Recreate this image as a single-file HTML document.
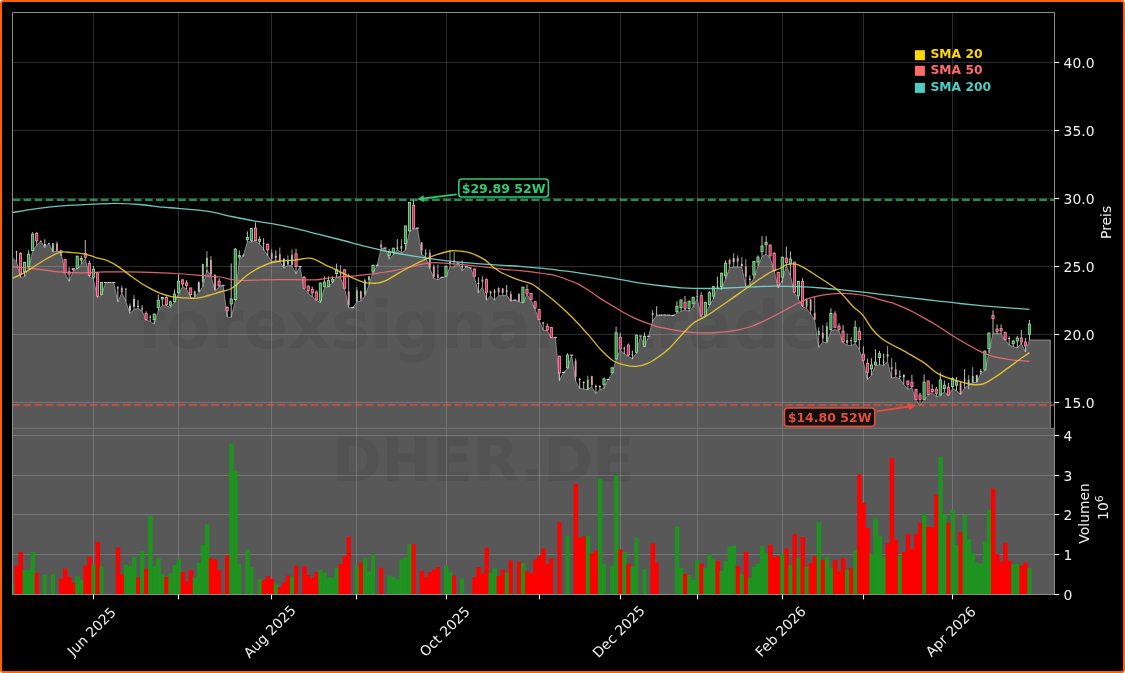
<!DOCTYPE html>
<html><head><meta charset="utf-8"><style>
html,body{margin:0;padding:0;background:#fff;width:1125px;height:673px;overflow:hidden}
#frame{position:absolute;left:0;top:0;width:1121px;height:669px;border:2px solid #ff6000;border-radius:3.5px;background:#000}
svg{position:absolute;left:0;top:0;will-change:transform}
</style></head><body>
<div id="frame"></div>
<svg width="1125" height="673" viewBox="0 0 1125 673" style="font-family:'DejaVu Sans','Liberation Sans',sans-serif">
<clipPath id="cp"><rect x="12.5" y="12.5" width="1041.8" height="415.7"/></clipPath>
<clipPath id="cv"><rect x="12.5" y="428.2" width="1041.8" height="166.3"/></clipPath>
<g clip-path="url(#cp)">
<polygon fill="#585858" points="12.5,428.2 12.5,257.9 12.4,257.9 16.5,261.8 20.5,277.4 24.6,276.5 28.6,267.9 32.7,251.2 36.7,245.0 40.8,241.0 44.8,247.6 48.9,243.4 52.9,252.0 57.0,251.2 61.0,252.0 65.1,273.1 69.1,281.3 73.2,271.2 77.2,268.7 81.3,264.0 85.3,258.4 89.4,276.7 93.4,279.2 97.5,297.4 101.5,295.1 105.6,282.5 109.6,282.5 113.7,282.5 117.8,301.8 121.8,292.9 125.9,301.3 129.9,313.5 134.0,309.6 138.0,308.5 142.1,310.7 146.1,320.2 150.2,321.3 154.2,324.1 158.3,310.7 162.3,305.2 166.4,305.7 170.4,307.4 174.5,302.4 178.5,293.5 182.6,286.8 186.6,289.0 190.7,297.9 194.7,297.4 198.8,292.3 202.8,286.8 206.9,270.0 210.9,275.6 215.0,290.7 219.1,286.8 223.1,285.4 227.2,316.9 231.2,317.4 235.3,300.7 239.3,259.0 243.4,255.4 247.4,241.8 251.5,242.0 255.5,240.9 259.6,244.2 263.6,249.3 267.7,255.4 271.7,261.6 275.8,260.4 279.8,261.6 283.9,268.2 287.9,264.9 292.0,266.0 296.0,273.8 300.1,266.6 304.1,288.9 308.2,293.3 312.2,296.7 316.3,300.4 320.4,302.6 324.4,287.0 328.5,287.0 332.5,282.6 336.6,277.0 340.6,278.1 344.7,288.7 348.7,307.7 352.8,307.7 356.8,302.0 360.9,301.0 364.9,296.0 369.0,284.8 373.0,272.5 377.1,265.3 381.1,248.6 385.2,248.0 389.2,259.2 393.3,254.8 397.3,249.8 401.4,252.6 405.4,250.4 409.5,231.4 413.5,229.2 417.6,228.1 421.7,254.5 425.7,257.0 429.8,268.2 433.8,278.4 437.9,279.6 441.9,277.3 446.0,276.8 450.0,266.7 454.1,267.3 458.1,263.0 462.2,270.6 466.2,266.7 470.3,267.9 474.3,276.8 478.4,292.9 482.4,286.8 486.5,300.2 490.5,295.7 494.6,300.2 498.6,295.7 502.7,295.7 506.7,295.2 510.8,301.2 514.8,300.1 518.9,301.7 523.0,302.8 527.0,294.5 531.1,300.1 535.1,309.5 539.2,320.1 543.2,330.2 547.3,330.7 551.3,338.0 555.4,337.4 559.4,380.7 563.5,372.5 567.5,368.5 571.6,355.1 575.6,380.7 579.7,388.5 583.7,389.1 587.8,389.6 591.8,386.9 595.9,393.5 599.9,389.6 604.0,388.5 608.0,379.6 612.1,373.5 616.1,359.5 620.2,349.5 624.3,354.0 628.3,356.2 632.4,358.8 636.4,353.0 640.5,336.0 644.5,346.9 648.6,336.3 652.6,321.0 656.7,315.6 660.7,315.1 664.8,315.1 668.8,315.2 672.9,315.5 676.9,313.4 681.0,311.2 685.0,310.1 689.1,311.2 693.1,307.3 697.2,298.4 701.2,317.3 705.3,315.6 709.3,305.6 713.4,298.9 717.4,287.7 721.5,289.4 725.6,278.8 729.6,267.7 733.7,267.1 737.7,267.1 741.8,267.1 745.8,286.6 749.9,284.4 753.9,278.3 758.0,266.0 762.0,256.7 766.1,254.1 770.1,257.6 774.2,271.0 778.2,287.9 782.3,280.0 786.3,265.6 790.4,275.5 794.4,292.6 798.5,299.3 802.5,306.5 806.6,308.4 810.6,314.0 814.7,320.1 818.7,347.4 822.8,341.8 826.9,342.9 830.9,331.0 835.0,329.5 839.0,331.0 843.1,342.4 847.1,345.2 851.2,345.7 855.2,343.5 859.3,349.6 863.3,361.5 867.4,379.4 871.4,375.5 875.5,365.4 879.5,364.9 883.6,365.4 887.6,361.5 891.7,378.2 895.7,377.1 899.8,378.8 903.8,384.4 907.9,389.4 911.9,387.7 916.0,400.0 920.0,405.6 924.1,400.0 928.2,395.0 932.2,392.7 936.3,396.6 940.3,395.5 944.4,391.9 948.4,395.5 952.5,388.6 956.5,390.6 960.6,394.6 964.6,387.9 968.7,385.2 972.7,382.6 976.8,382.3 980.8,373.2 984.9,370.5 988.9,352.5 993.0,333.0 997.0,333.5 1001.1,333.8 1005.1,340.0 1009.2,345.1 1013.2,346.5 1017.3,348.0 1021.3,343.0 1025.4,352.0 1029.5,340.0 1050.4,340.0 1050.4,428.2"/>
<polyline fill="none" stroke="#bdbdbd" stroke-opacity="0.6" stroke-width="1" points="12.4,257.9 16.5,261.8 20.5,277.4 24.6,276.5 28.6,267.9 32.7,251.2 36.7,245.0 40.8,241.0 44.8,247.6 48.9,243.4 52.9,252.0 57.0,251.2 61.0,252.0 65.1,273.1 69.1,281.3 73.2,271.2 77.2,268.7 81.3,264.0 85.3,258.4 89.4,276.7 93.4,279.2 97.5,297.4 101.5,295.1 105.6,282.5 109.6,282.5 113.7,282.5 117.8,301.8 121.8,292.9 125.9,301.3 129.9,313.5 134.0,309.6 138.0,308.5 142.1,310.7 146.1,320.2 150.2,321.3 154.2,324.1 158.3,310.7 162.3,305.2 166.4,305.7 170.4,307.4 174.5,302.4 178.5,293.5 182.6,286.8 186.6,289.0 190.7,297.9 194.7,297.4 198.8,292.3 202.8,286.8 206.9,270.0 210.9,275.6 215.0,290.7 219.1,286.8 223.1,285.4 227.2,316.9 231.2,317.4 235.3,300.7 239.3,259.0 243.4,255.4 247.4,241.8 251.5,242.0 255.5,240.9 259.6,244.2 263.6,249.3 267.7,255.4 271.7,261.6 275.8,260.4 279.8,261.6 283.9,268.2 287.9,264.9 292.0,266.0 296.0,273.8 300.1,266.6 304.1,288.9 308.2,293.3 312.2,296.7 316.3,300.4 320.4,302.6 324.4,287.0 328.5,287.0 332.5,282.6 336.6,277.0 340.6,278.1 344.7,288.7 348.7,307.7 352.8,307.7 356.8,302.0 360.9,301.0 364.9,296.0 369.0,284.8 373.0,272.5 377.1,265.3 381.1,248.6 385.2,248.0 389.2,259.2 393.3,254.8 397.3,249.8 401.4,252.6 405.4,250.4 409.5,231.4 413.5,229.2 417.6,228.1 421.7,254.5 425.7,257.0 429.8,268.2 433.8,278.4 437.9,279.6 441.9,277.3 446.0,276.8 450.0,266.7 454.1,267.3 458.1,263.0 462.2,270.6 466.2,266.7 470.3,267.9 474.3,276.8 478.4,292.9 482.4,286.8 486.5,300.2 490.5,295.7 494.6,300.2 498.6,295.7 502.7,295.7 506.7,295.2 510.8,301.2 514.8,300.1 518.9,301.7 523.0,302.8 527.0,294.5 531.1,300.1 535.1,309.5 539.2,320.1 543.2,330.2 547.3,330.7 551.3,338.0 555.4,337.4 559.4,380.7 563.5,372.5 567.5,368.5 571.6,355.1 575.6,380.7 579.7,388.5 583.7,389.1 587.8,389.6 591.8,386.9 595.9,393.5 599.9,389.6 604.0,388.5 608.0,379.6 612.1,373.5 616.1,359.5 620.2,349.5 624.3,354.0 628.3,356.2 632.4,358.8 636.4,353.0 640.5,336.0 644.5,346.9 648.6,336.3 652.6,321.0 656.7,315.6 660.7,315.1 664.8,315.1 668.8,315.2 672.9,315.5 676.9,313.4 681.0,311.2 685.0,310.1 689.1,311.2 693.1,307.3 697.2,298.4 701.2,317.3 705.3,315.6 709.3,305.6 713.4,298.9 717.4,287.7 721.5,289.4 725.6,278.8 729.6,267.7 733.7,267.1 737.7,267.1 741.8,267.1 745.8,286.6 749.9,284.4 753.9,278.3 758.0,266.0 762.0,256.7 766.1,254.1 770.1,257.6 774.2,271.0 778.2,287.9 782.3,280.0 786.3,265.6 790.4,275.5 794.4,292.6 798.5,299.3 802.5,306.5 806.6,308.4 810.6,314.0 814.7,320.1 818.7,347.4 822.8,341.8 826.9,342.9 830.9,331.0 835.0,329.5 839.0,331.0 843.1,342.4 847.1,345.2 851.2,345.7 855.2,343.5 859.3,349.6 863.3,361.5 867.4,379.4 871.4,375.5 875.5,365.4 879.5,364.9 883.6,365.4 887.6,361.5 891.7,378.2 895.7,377.1 899.8,378.8 903.8,384.4 907.9,389.4 911.9,387.7 916.0,400.0 920.0,405.6 924.1,400.0 928.2,395.0 932.2,392.7 936.3,396.6 940.3,395.5 944.4,391.9 948.4,395.5 952.5,388.6 956.5,390.6 960.6,394.6 964.6,387.9 968.7,385.2 972.7,382.6 976.8,382.3 980.8,373.2 984.9,370.5 988.9,352.5 993.0,333.0 997.0,333.5 1001.1,333.8 1005.1,340.0 1009.2,345.1 1013.2,346.5 1017.3,348.0 1021.3,343.0 1025.4,352.0 1029.5,340.0 1050.4,340.0 1050.4,428.2"/>
<text x="137" y="348.2" font-size="66px" font-weight="bold" fill="#000" fill-opacity="0.065">forexsignale.trade</text>
<g stroke="#ffffff" stroke-opacity="0.17" stroke-width="1" fill="none">
<line x1="93.5" y1="12.5" x2="93.5" y2="428.2"/>
<line x1="178.5" y1="12.5" x2="178.5" y2="428.2"/>
<line x1="271.5" y1="12.5" x2="271.5" y2="428.2"/>
<line x1="356.5" y1="12.5" x2="356.5" y2="428.2"/>
<line x1="446.5" y1="12.5" x2="446.5" y2="428.2"/>
<line x1="539.5" y1="12.5" x2="539.5" y2="428.2"/>
<line x1="620.5" y1="12.5" x2="620.5" y2="428.2"/>
<line x1="697.5" y1="12.5" x2="697.5" y2="428.2"/>
<line x1="782.5" y1="12.5" x2="782.5" y2="428.2"/>
<line x1="863.5" y1="12.5" x2="863.5" y2="428.2"/>
<line x1="952.5" y1="12.5" x2="952.5" y2="428.2"/>
<line x1="12.5" y1="62.5" x2="1054.3" y2="62.5"/>
<line x1="12.5" y1="130.5" x2="1054.3" y2="130.5"/>
<line x1="12.5" y1="198.5" x2="1054.3" y2="198.5"/>
<line x1="12.5" y1="266.5" x2="1054.3" y2="266.5"/>
<line x1="12.5" y1="334.5" x2="1054.3" y2="334.5"/>
<line x1="12.5" y1="402.5" x2="1054.3" y2="402.5"/>
</g>
<line x1="12.4" y1="252.3" x2="12.4" y2="257.9" stroke="#d4d4d4" stroke-width="0.9"/>
<rect x="11.50" y="252.9" width="1.8" height="0.7" fill="#d8d8d8"/>
<line x1="16.5" y1="250.9" x2="16.5" y2="261.8" stroke="#d4d4d4" stroke-width="0.9"/>
<rect x="15.55" y="251.5" width="1.8" height="0.7" fill="#d8d8d8"/>
<line x1="20.5" y1="252.3" x2="20.5" y2="277.4" stroke="#cfcfcf" stroke-width="0.9"/>
<rect x="19.40" y="253.4" width="2.2" height="20.6" fill="#bf2f58" stroke="#ff94b2" stroke-width="0.8"/>
<line x1="24.6" y1="261.8" x2="24.6" y2="276.5" stroke="#cfcfcf" stroke-width="0.9"/>
<rect x="23.46" y="262.3" width="2.2" height="9.5" fill="#2e8c47" stroke="#a0e2a0" stroke-width="0.8"/>
<line x1="28.6" y1="250.4" x2="28.6" y2="267.9" stroke="#cfcfcf" stroke-width="0.9"/>
<rect x="27.51" y="254.2" width="2.2" height="12.6" fill="#2e8c47" stroke="#a0e2a0" stroke-width="0.8"/>
<line x1="32.7" y1="232.2" x2="32.7" y2="251.2" stroke="#cfcfcf" stroke-width="0.9"/>
<rect x="31.56" y="234.1" width="2.2" height="16.5" fill="#2e8c47" stroke="#a0e2a0" stroke-width="0.8"/>
<line x1="36.7" y1="232.2" x2="36.7" y2="245.0" stroke="#cfcfcf" stroke-width="0.9"/>
<rect x="35.61" y="233.3" width="2.2" height="7.5" fill="#bf2f58" stroke="#ff94b2" stroke-width="0.8"/>
<line x1="40.8" y1="240.6" x2="40.8" y2="241.2" stroke="#d4d4d4" stroke-width="0.9"/>
<rect x="39.86" y="240.8" width="1.8" height="0.7" fill="#d8d8d8"/>
<line x1="44.8" y1="239.3" x2="44.8" y2="247.6" stroke="#d4d4d4" stroke-width="0.9"/>
<rect x="43.92" y="244.0" width="1.8" height="1.8" fill="#d8d8d8"/>
<line x1="48.9" y1="243.0" x2="48.9" y2="243.6" stroke="#d4d4d4" stroke-width="0.9"/>
<rect x="47.97" y="243.2" width="1.8" height="0.7" fill="#d8d8d8"/>
<line x1="52.9" y1="243.0" x2="52.9" y2="252.0" stroke="#d8d8d8" stroke-opacity="0.8" stroke-width="0.9"/>
<rect x="51.97" y="243.2" width="1.9" height="8.6" fill="#9fd09f" fill-opacity="0.9"/>
<line x1="57.0" y1="241.4" x2="57.0" y2="251.2" stroke="#d8d8d8" stroke-opacity="0.8" stroke-width="0.9"/>
<rect x="56.02" y="243.5" width="1.9" height="7.4" fill="#e3a3b3" fill-opacity="0.9"/>
<line x1="61.0" y1="250.0" x2="61.0" y2="256.0" stroke="#cfcfcf" stroke-width="0.9"/>
<rect x="59.92" y="250.9" width="2.2" height="1.1" fill="#bf2f58" stroke="#ff94b2" stroke-width="0.8"/>
<line x1="65.1" y1="259.0" x2="65.1" y2="273.1" stroke="#cfcfcf" stroke-width="0.9"/>
<rect x="63.98" y="259.5" width="2.2" height="13.4" fill="#bf2f58" stroke="#ff94b2" stroke-width="0.8"/>
<line x1="69.1" y1="267.3" x2="69.1" y2="281.3" stroke="#cfcfcf" stroke-width="0.9"/>
<rect x="68.03" y="271.8" width="2.2" height="2.2" fill="#bf2f58" stroke="#ff94b2" stroke-width="0.8"/>
<line x1="73.2" y1="267.9" x2="73.2" y2="271.2" stroke="#cfcfcf" stroke-width="0.9"/>
<rect x="72.08" y="268.5" width="2.2" height="1.1" fill="#bf2f58" stroke="#ff94b2" stroke-width="0.8"/>
<line x1="77.2" y1="255.6" x2="77.2" y2="268.7" stroke="#cfcfcf" stroke-width="0.9"/>
<rect x="76.13" y="256.2" width="2.2" height="12.3" fill="#2e8c47" stroke="#a0e2a0" stroke-width="0.8"/>
<line x1="81.3" y1="255.6" x2="81.3" y2="264.0" stroke="#cfcfcf" stroke-width="0.9"/>
<rect x="80.18" y="258.4" width="2.2" height="1.7" fill="#2e8c47" stroke="#a0e2a0" stroke-width="0.8"/>
<line x1="85.3" y1="240.0" x2="85.3" y2="258.4" stroke="#cfcfcf" stroke-width="0.9"/>
<rect x="84.24" y="253.4" width="2.2" height="3.9" fill="#bf2f58" stroke="#ff94b2" stroke-width="0.8"/>
<line x1="89.4" y1="260.6" x2="89.4" y2="276.7" stroke="#cfcfcf" stroke-width="0.9"/>
<rect x="88.29" y="263.4" width="2.2" height="12.2" fill="#bf2f58" stroke="#ff94b2" stroke-width="0.8"/>
<line x1="93.4" y1="266.2" x2="93.4" y2="279.2" stroke="#cfcfcf" stroke-width="0.9"/>
<rect x="92.34" y="269.2" width="2.2" height="8.1" fill="#2e8c47" stroke="#a0e2a0" stroke-width="0.8"/>
<line x1="97.5" y1="272.3" x2="97.5" y2="297.4" stroke="#cfcfcf" stroke-width="0.9"/>
<rect x="96.39" y="272.8" width="2.2" height="23.4" fill="#bf2f58" stroke="#ff94b2" stroke-width="0.8"/>
<line x1="101.5" y1="282.1" x2="101.5" y2="295.1" stroke="#cfcfcf" stroke-width="0.9"/>
<rect x="100.44" y="282.3" width="2.2" height="12.3" fill="#2e8c47" stroke="#a0e2a0" stroke-width="0.8"/>
<line x1="104.0" y1="282.5" x2="107.2" y2="282.5" stroke="#d0d0d0" stroke-width="1"/>
<line x1="108.0" y1="282.5" x2="111.2" y2="282.5" stroke="#d0d0d0" stroke-width="1"/>
<line x1="112.1" y1="282.5" x2="115.3" y2="282.5" stroke="#d0d0d0" stroke-width="1"/>
<line x1="117.8" y1="286.2" x2="117.8" y2="301.8" stroke="#d4d4d4" stroke-width="0.9"/>
<rect x="116.85" y="287.3" width="1.8" height="1.1" fill="#d8d8d8"/>
<line x1="121.8" y1="285.4" x2="121.8" y2="292.9" stroke="#d8d8d8" stroke-opacity="0.8" stroke-width="0.9"/>
<rect x="120.85" y="287.9" width="1.9" height="4.4" fill="#e3a3b3" fill-opacity="0.9"/>
<line x1="125.9" y1="288.4" x2="125.9" y2="301.3" stroke="#d4d4d4" stroke-width="0.9"/>
<rect x="124.96" y="288.7" width="1.8" height="0.7" fill="#d8d8d8"/>
<line x1="129.9" y1="303.5" x2="129.9" y2="313.5" stroke="#d8d8d8" stroke-opacity="0.8" stroke-width="0.9"/>
<rect x="128.96" y="305.7" width="1.9" height="5.0" fill="#c8d8c8" fill-opacity="0.9"/>
<line x1="134.0" y1="295.1" x2="134.0" y2="309.6" stroke="#d8d8d8" stroke-opacity="0.8" stroke-width="0.9"/>
<rect x="133.01" y="299.0" width="1.9" height="7.8" fill="#c8d8c8" fill-opacity="0.9"/>
<line x1="138.0" y1="300.2" x2="138.0" y2="308.5" stroke="#d4d4d4" stroke-width="0.9"/>
<rect x="137.11" y="305.7" width="1.8" height="1.1" fill="#d8d8d8"/>
<line x1="142.1" y1="305.2" x2="142.1" y2="310.7" stroke="#d4d4d4" stroke-width="0.9"/>
<rect x="141.16" y="308.5" width="1.8" height="0.7" fill="#d8d8d8"/>
<line x1="146.1" y1="311.3" x2="146.1" y2="320.2" stroke="#cfcfcf" stroke-width="0.9"/>
<rect x="145.02" y="313.5" width="2.2" height="6.2" fill="#bf2f58" stroke="#ff94b2" stroke-width="0.8"/>
<line x1="150.2" y1="315.2" x2="150.2" y2="321.3" stroke="#d4d4d4" stroke-width="0.9"/>
<rect x="149.27" y="316.7" width="1.8" height="0.7" fill="#d8d8d8"/>
<line x1="154.2" y1="313.5" x2="154.2" y2="324.1" stroke="#cfcfcf" stroke-width="0.9"/>
<rect x="153.12" y="314.1" width="2.2" height="5.6" fill="#2e8c47" stroke="#a0e2a0" stroke-width="0.8"/>
<line x1="158.3" y1="294.6" x2="158.3" y2="310.7" stroke="#cfcfcf" stroke-width="0.9"/>
<rect x="157.17" y="300.2" width="2.2" height="7.2" fill="#2e8c47" stroke="#a0e2a0" stroke-width="0.8"/>
<line x1="162.3" y1="296.8" x2="162.3" y2="305.2" stroke="#cfcfcf" stroke-width="0.9"/>
<rect x="161.22" y="297.4" width="2.2" height="1.6" fill="#2e8c47" stroke="#a0e2a0" stroke-width="0.8"/>
<line x1="166.4" y1="296.2" x2="166.4" y2="305.7" stroke="#cfcfcf" stroke-width="0.9"/>
<rect x="165.28" y="297.4" width="2.2" height="7.2" fill="#bf2f58" stroke="#ff94b2" stroke-width="0.8"/>
<line x1="170.4" y1="300.7" x2="170.4" y2="307.4" stroke="#cfcfcf" stroke-width="0.9"/>
<rect x="169.33" y="301.8" width="2.2" height="3.4" fill="#2e8c47" stroke="#a0e2a0" stroke-width="0.8"/>
<line x1="174.5" y1="289.6" x2="174.5" y2="302.4" stroke="#cfcfcf" stroke-width="0.9"/>
<rect x="173.38" y="294.0" width="2.2" height="7.8" fill="#2e8c47" stroke="#a0e2a0" stroke-width="0.8"/>
<line x1="178.5" y1="274.5" x2="178.5" y2="293.5" stroke="#cfcfcf" stroke-width="0.9"/>
<rect x="177.43" y="281.2" width="2.2" height="11.7" fill="#2e8c47" stroke="#a0e2a0" stroke-width="0.8"/>
<line x1="182.6" y1="279.2" x2="182.6" y2="286.8" stroke="#cfcfcf" stroke-width="0.9"/>
<rect x="181.48" y="279.9" width="2.2" height="4.1" fill="#bf2f58" stroke="#ff94b2" stroke-width="0.8"/>
<line x1="186.6" y1="280.1" x2="186.6" y2="289.0" stroke="#cfcfcf" stroke-width="0.9"/>
<rect x="185.54" y="282.9" width="2.2" height="2.8" fill="#bf2f58" stroke="#ff94b2" stroke-width="0.8"/>
<line x1="190.7" y1="287.9" x2="190.7" y2="297.9" stroke="#cfcfcf" stroke-width="0.9"/>
<rect x="189.59" y="287.9" width="2.2" height="6.7" fill="#bf2f58" stroke="#ff94b2" stroke-width="0.8"/>
<line x1="194.7" y1="290.7" x2="194.7" y2="297.4" stroke="#d8d8d8" stroke-opacity="0.8" stroke-width="0.9"/>
<rect x="193.79" y="291.2" width="1.9" height="5.0" fill="#9fd09f" fill-opacity="0.9"/>
<line x1="198.8" y1="281.2" x2="198.8" y2="292.3" stroke="#d8d8d8" stroke-opacity="0.8" stroke-width="0.9"/>
<rect x="197.84" y="282.3" width="1.9" height="9.5" fill="#c8d8c8" fill-opacity="0.9"/>
<line x1="202.8" y1="263.9" x2="202.8" y2="286.8" stroke="#d8d8d8" stroke-opacity="0.8" stroke-width="0.9"/>
<rect x="201.89" y="263.9" width="1.9" height="18.4" fill="#9fd09f" fill-opacity="0.9"/>
<line x1="206.9" y1="251.1" x2="206.9" y2="272.3" stroke="#d8d8d8" stroke-opacity="0.8" stroke-width="0.9"/>
<rect x="205.95" y="257.8" width="1.9" height="8.9" fill="#9fd09f" fill-opacity="0.9"/>
<line x1="210.9" y1="256.1" x2="210.9" y2="275.6" stroke="#d8d8d8" stroke-opacity="0.8" stroke-width="0.9"/>
<rect x="210.00" y="260.0" width="1.9" height="14.5" fill="#e3a3b3" fill-opacity="0.9"/>
<line x1="215.0" y1="274.0" x2="215.0" y2="290.7" stroke="#d8d8d8" stroke-opacity="0.8" stroke-width="0.9"/>
<rect x="214.05" y="275.1" width="1.9" height="15.0" fill="#e3a3b3" fill-opacity="0.9"/>
<line x1="219.1" y1="278.4" x2="219.1" y2="286.8" stroke="#cfcfcf" stroke-width="0.9"/>
<rect x="217.95" y="281.2" width="2.2" height="4.5" fill="#bf2f58" stroke="#ff94b2" stroke-width="0.8"/>
<line x1="221.5" y1="285.4" x2="224.7" y2="285.4" stroke="#d0d0d0" stroke-width="1"/>
<line x1="227.2" y1="306.3" x2="227.2" y2="316.9" stroke="#cfcfcf" stroke-width="0.9"/>
<rect x="226.06" y="307.4" width="2.2" height="3.3" fill="#bf2f58" stroke="#ff94b2" stroke-width="0.8"/>
<line x1="231.2" y1="263.4" x2="231.2" y2="317.4" stroke="#cfcfcf" stroke-width="0.9"/>
<rect x="230.11" y="299.0" width="2.2" height="5.0" fill="#2e8c47" stroke="#a0e2a0" stroke-width="0.8"/>
<line x1="235.3" y1="248.0" x2="235.3" y2="300.7" stroke="#cfcfcf" stroke-width="0.9"/>
<rect x="234.16" y="249.2" width="2.2" height="50.4" fill="#2e8c47" stroke="#a0e2a0" stroke-width="0.8"/>
<line x1="239.3" y1="250.4" x2="239.3" y2="259.0" stroke="#cfcfcf" stroke-width="0.9"/>
<rect x="238.21" y="255.6" width="2.2" height="1.4" fill="#2e8c47" stroke="#a0e2a0" stroke-width="0.8"/>
<line x1="243.4" y1="254.5" x2="243.4" y2="256.5" stroke="#d4d4d4" stroke-width="0.9"/>
<rect x="242.46" y="255.2" width="1.8" height="0.7" fill="#d8d8d8"/>
<line x1="247.4" y1="231.4" x2="247.4" y2="241.8" stroke="#cfcfcf" stroke-width="0.9"/>
<rect x="246.32" y="237.4" width="2.2" height="2.3" fill="#2e8c47" stroke="#a0e2a0" stroke-width="0.8"/>
<line x1="251.5" y1="228.1" x2="251.5" y2="242.0" stroke="#cfcfcf" stroke-width="0.9"/>
<rect x="250.37" y="228.4" width="2.2" height="12.2" fill="#2e8c47" stroke="#a0e2a0" stroke-width="0.8"/>
<line x1="255.5" y1="222.5" x2="255.5" y2="240.9" stroke="#cfcfcf" stroke-width="0.9"/>
<rect x="254.42" y="228.1" width="2.2" height="12.5" fill="#bf2f58" stroke="#ff94b2" stroke-width="0.8"/>
<line x1="259.6" y1="236.4" x2="259.6" y2="244.2" stroke="#cfcfcf" stroke-width="0.9"/>
<rect x="258.47" y="239.4" width="2.2" height="1.8" fill="#2e8c47" stroke="#a0e2a0" stroke-width="0.8"/>
<line x1="263.6" y1="238.2" x2="263.6" y2="250.4" stroke="#d4d4d4" stroke-width="0.9"/>
<rect x="262.72" y="243.4" width="1.8" height="0.7" fill="#d8d8d8"/>
<line x1="267.7" y1="243.6" x2="267.7" y2="256.0" stroke="#cfcfcf" stroke-width="0.9"/>
<rect x="266.58" y="244.2" width="2.2" height="5.6" fill="#bf2f58" stroke="#ff94b2" stroke-width="0.8"/>
<line x1="271.7" y1="249.3" x2="271.7" y2="261.6" stroke="#d8d8d8" stroke-opacity="0.8" stroke-width="0.9"/>
<rect x="270.78" y="253.2" width="1.9" height="5.6" fill="#e3a3b3" fill-opacity="0.9"/>
<line x1="275.8" y1="250.4" x2="275.8" y2="260.4" stroke="#d4d4d4" stroke-width="0.9"/>
<rect x="274.88" y="256.0" width="1.8" height="1.6" fill="#d8d8d8"/>
<line x1="279.8" y1="247.6" x2="279.8" y2="261.6" stroke="#d8d8d8" stroke-opacity="0.8" stroke-width="0.9"/>
<rect x="278.88" y="254.3" width="1.9" height="6.7" fill="#e3a3b3" fill-opacity="0.9"/>
<line x1="283.9" y1="258.2" x2="283.9" y2="268.2" stroke="#d8d8d8" stroke-opacity="0.8" stroke-width="0.9"/>
<rect x="282.93" y="258.8" width="1.9" height="7.8" fill="#c8d8c8" fill-opacity="0.9"/>
<line x1="287.9" y1="255.4" x2="287.9" y2="264.9" stroke="#d8d8d8" stroke-opacity="0.8" stroke-width="0.9"/>
<rect x="286.99" y="259.9" width="1.9" height="4.4" fill="#9fd09f" fill-opacity="0.9"/>
<line x1="292.0" y1="249.3" x2="292.0" y2="266.0" stroke="#d8d8d8" stroke-opacity="0.8" stroke-width="0.9"/>
<rect x="291.04" y="254.9" width="1.9" height="10.0" fill="#9fd09f" fill-opacity="0.9"/>
<line x1="296.0" y1="248.7" x2="296.0" y2="273.8" stroke="#cfcfcf" stroke-width="0.9"/>
<rect x="294.94" y="253.8" width="2.2" height="12.8" fill="#bf2f58" stroke="#ff94b2" stroke-width="0.8"/>
<line x1="298.5" y1="266.6" x2="301.7" y2="266.6" stroke="#d0d0d0" stroke-width="1"/>
<line x1="304.1" y1="276.1" x2="304.1" y2="288.9" stroke="#cfcfcf" stroke-width="0.9"/>
<rect x="303.04" y="277.2" width="2.2" height="11.1" fill="#bf2f58" stroke="#ff94b2" stroke-width="0.8"/>
<line x1="308.2" y1="285.5" x2="308.2" y2="293.3" stroke="#cfcfcf" stroke-width="0.9"/>
<rect x="307.10" y="286.1" width="2.2" height="4.4" fill="#bf2f58" stroke="#ff94b2" stroke-width="0.8"/>
<line x1="312.2" y1="286.6" x2="312.2" y2="296.7" stroke="#cfcfcf" stroke-width="0.9"/>
<rect x="311.15" y="289.4" width="2.2" height="3.4" fill="#bf2f58" stroke="#ff94b2" stroke-width="0.8"/>
<line x1="316.3" y1="290.4" x2="316.3" y2="300.4" stroke="#cfcfcf" stroke-width="0.9"/>
<rect x="315.20" y="292.0" width="2.2" height="7.9" fill="#bf2f58" stroke="#ff94b2" stroke-width="0.8"/>
<line x1="320.4" y1="282.6" x2="320.4" y2="302.6" stroke="#cfcfcf" stroke-width="0.9"/>
<rect x="319.25" y="283.1" width="2.2" height="17.9" fill="#2e8c47" stroke="#a0e2a0" stroke-width="0.8"/>
<line x1="324.4" y1="276.4" x2="324.4" y2="287.0" stroke="#cfcfcf" stroke-width="0.9"/>
<rect x="323.30" y="282.0" width="2.2" height="4.5" fill="#2e8c47" stroke="#a0e2a0" stroke-width="0.8"/>
<line x1="328.5" y1="276.4" x2="328.5" y2="287.0" stroke="#cfcfcf" stroke-width="0.9"/>
<rect x="327.36" y="280.3" width="2.2" height="6.2" fill="#2e8c47" stroke="#a0e2a0" stroke-width="0.8"/>
<line x1="332.5" y1="276.4" x2="332.5" y2="282.6" stroke="#cfcfcf" stroke-width="0.9"/>
<rect x="331.41" y="279.2" width="2.2" height="2.8" fill="#2e8c47" stroke="#a0e2a0" stroke-width="0.8"/>
<line x1="336.6" y1="263.6" x2="336.6" y2="277.0" stroke="#cfcfcf" stroke-width="0.9"/>
<rect x="335.46" y="269.8" width="2.2" height="3.9" fill="#2e8c47" stroke="#a0e2a0" stroke-width="0.8"/>
<line x1="340.6" y1="265.3" x2="340.6" y2="278.1" stroke="#d8d8d8" stroke-opacity="0.8" stroke-width="0.9"/>
<rect x="339.66" y="272.5" width="1.9" height="1.7" fill="#e3a3b3" fill-opacity="0.9"/>
<line x1="344.7" y1="269.2" x2="344.7" y2="288.7" stroke="#cfcfcf" stroke-width="0.9"/>
<rect x="343.56" y="269.8" width="2.2" height="18.4" fill="#bf2f58" stroke="#ff94b2" stroke-width="0.8"/>
<line x1="348.7" y1="273.7" x2="348.7" y2="307.7" stroke="#d8d8d8" stroke-opacity="0.8" stroke-width="0.9"/>
<rect x="347.77" y="291.5" width="1.9" height="13.4" fill="#e3a3b3" fill-opacity="0.9"/>
<line x1="351.2" y1="307.7" x2="354.4" y2="307.7" stroke="#d0d0d0" stroke-width="1"/>
<line x1="356.8" y1="287.0" x2="356.8" y2="302.0" stroke="#d8d8d8" stroke-opacity="0.8" stroke-width="0.9"/>
<rect x="355.87" y="290.4" width="1.9" height="11.1" fill="#9fd09f" fill-opacity="0.9"/>
<line x1="360.9" y1="290.4" x2="360.9" y2="301.0" stroke="#d8d8d8" stroke-opacity="0.8" stroke-width="0.9"/>
<rect x="359.92" y="291.5" width="1.9" height="7.2" fill="#e3a3b3" fill-opacity="0.9"/>
<line x1="364.9" y1="278.7" x2="364.9" y2="296.0" stroke="#d8d8d8" stroke-opacity="0.8" stroke-width="0.9"/>
<rect x="363.97" y="280.3" width="1.9" height="14.0" fill="#9fd09f" fill-opacity="0.9"/>
<line x1="369.0" y1="275.9" x2="369.0" y2="284.8" stroke="#d8d8d8" stroke-opacity="0.8" stroke-width="0.9"/>
<rect x="368.03" y="276.4" width="1.9" height="3.9" fill="#9fd09f" fill-opacity="0.9"/>
<line x1="373.0" y1="264.7" x2="373.0" y2="272.5" stroke="#cfcfcf" stroke-width="0.9"/>
<rect x="371.93" y="265.3" width="2.2" height="6.7" fill="#2e8c47" stroke="#a0e2a0" stroke-width="0.8"/>
<line x1="375.5" y1="265.3" x2="378.7" y2="265.3" stroke="#d0d0d0" stroke-width="1"/>
<line x1="381.1" y1="240.2" x2="381.1" y2="248.6" stroke="#d8d8d8" stroke-opacity="0.8" stroke-width="0.9"/>
<rect x="380.18" y="244.7" width="1.9" height="2.8" fill="#e3a3b3" fill-opacity="0.9"/>
<line x1="383.6" y1="248.0" x2="386.8" y2="248.0" stroke="#d0d0d0" stroke-width="1"/>
<line x1="389.2" y1="249.1" x2="389.2" y2="259.2" stroke="#cfcfcf" stroke-width="0.9"/>
<rect x="388.14" y="251.9" width="2.2" height="3.9" fill="#2e8c47" stroke="#a0e2a0" stroke-width="0.8"/>
<line x1="393.3" y1="247.6" x2="393.3" y2="254.8" stroke="#cfcfcf" stroke-width="0.9"/>
<rect x="392.19" y="248.2" width="2.2" height="4.4" fill="#2e8c47" stroke="#a0e2a0" stroke-width="0.8"/>
<line x1="397.3" y1="239.2" x2="397.3" y2="249.8" stroke="#d4d4d4" stroke-width="0.9"/>
<rect x="396.44" y="247.6" width="1.8" height="1.1" fill="#d8d8d8"/>
<line x1="401.4" y1="239.2" x2="401.4" y2="252.6" stroke="#d8d8d8" stroke-opacity="0.8" stroke-width="0.9"/>
<rect x="400.44" y="245.9" width="1.9" height="2.8" fill="#9fd09f" fill-opacity="0.9"/>
<line x1="405.4" y1="225.9" x2="405.4" y2="250.4" stroke="#cfcfcf" stroke-width="0.9"/>
<rect x="404.34" y="225.9" width="2.2" height="17.8" fill="#2e8c47" stroke="#a0e2a0" stroke-width="0.8"/>
<line x1="409.5" y1="202.5" x2="409.5" y2="231.4" stroke="#cfcfcf" stroke-width="0.9"/>
<rect x="408.40" y="202.5" width="2.2" height="28.4" fill="#2e8c47" stroke="#a0e2a0" stroke-width="0.8"/>
<line x1="413.5" y1="199.7" x2="413.5" y2="229.2" stroke="#cfcfcf" stroke-width="0.9"/>
<rect x="412.45" y="205.2" width="2.2" height="23.4" fill="#bf2f58" stroke="#ff94b2" stroke-width="0.8"/>
<line x1="416.0" y1="228.1" x2="419.2" y2="228.1" stroke="#d0d0d0" stroke-width="1"/>
<line x1="421.7" y1="242.0" x2="421.7" y2="254.8" stroke="#d8d8d8" stroke-opacity="0.8" stroke-width="0.9"/>
<rect x="420.70" y="242.6" width="1.9" height="7.8" fill="#e3a3b3" fill-opacity="0.9"/>
<line x1="425.7" y1="249.3" x2="425.7" y2="258.2" stroke="#d4d4d4" stroke-width="0.9"/>
<rect x="424.80" y="253.2" width="1.8" height="1.0" fill="#d8d8d8"/>
<line x1="429.8" y1="249.3" x2="429.8" y2="269.3" stroke="#d8d8d8" stroke-opacity="0.8" stroke-width="0.9"/>
<rect x="428.81" y="252.6" width="1.9" height="15.6" fill="#e3a3b3" fill-opacity="0.9"/>
<line x1="433.8" y1="264.5" x2="433.8" y2="278.4" stroke="#d8d8d8" stroke-opacity="0.8" stroke-width="0.9"/>
<rect x="432.86" y="266.7" width="1.9" height="10.1" fill="#e3a3b3" fill-opacity="0.9"/>
<line x1="437.9" y1="264.5" x2="437.9" y2="279.6" stroke="#d8d8d8" stroke-opacity="0.8" stroke-width="0.9"/>
<rect x="436.91" y="274.5" width="1.9" height="3.4" fill="#e3a3b3" fill-opacity="0.9"/>
<line x1="440.3" y1="277.3" x2="443.5" y2="277.3" stroke="#d0d0d0" stroke-width="1"/>
<line x1="446.0" y1="265.6" x2="446.0" y2="276.8" stroke="#cfcfcf" stroke-width="0.9"/>
<rect x="444.86" y="266.2" width="2.2" height="10.0" fill="#2e8c47" stroke="#a0e2a0" stroke-width="0.8"/>
<line x1="450.0" y1="250.0" x2="450.0" y2="266.7" stroke="#d8d8d8" stroke-opacity="0.8" stroke-width="0.9"/>
<rect x="449.07" y="261.7" width="1.9" height="2.3" fill="#9fd09f" fill-opacity="0.9"/>
<line x1="454.1" y1="251.7" x2="454.1" y2="267.3" stroke="#d8d8d8" stroke-opacity="0.8" stroke-width="0.9"/>
<rect x="453.12" y="260.6" width="1.9" height="1.7" fill="#e3a3b3" fill-opacity="0.9"/>
<line x1="456.5" y1="263.0" x2="459.7" y2="263.0" stroke="#d0d0d0" stroke-width="1"/>
<line x1="462.2" y1="260.6" x2="462.2" y2="270.6" stroke="#d4d4d4" stroke-width="0.9"/>
<rect x="461.27" y="266.2" width="1.8" height="1.1" fill="#d8d8d8"/>
<line x1="464.6" y1="266.7" x2="467.8" y2="266.7" stroke="#d0d0d0" stroke-width="1"/>
<line x1="468.7" y1="267.9" x2="471.9" y2="267.9" stroke="#d0d0d0" stroke-width="1"/>
<line x1="474.3" y1="268.4" x2="474.3" y2="276.8" stroke="#cfcfcf" stroke-width="0.9"/>
<rect x="473.23" y="269.0" width="2.2" height="7.2" fill="#bf2f58" stroke="#ff94b2" stroke-width="0.8"/>
<line x1="478.4" y1="277.3" x2="478.4" y2="292.9" stroke="#d4d4d4" stroke-width="0.9"/>
<rect x="477.48" y="283.0" width="1.8" height="1.0" fill="#d8d8d8"/>
<line x1="482.4" y1="276.2" x2="482.4" y2="286.8" stroke="#d8d8d8" stroke-opacity="0.8" stroke-width="0.9"/>
<rect x="481.48" y="279.6" width="1.9" height="2.2" fill="#e3a3b3" fill-opacity="0.9"/>
<line x1="486.5" y1="278.4" x2="486.5" y2="300.2" stroke="#cfcfcf" stroke-width="0.9"/>
<rect x="485.38" y="279.6" width="2.2" height="12.8" fill="#bf2f58" stroke="#ff94b2" stroke-width="0.8"/>
<line x1="490.5" y1="290.7" x2="490.5" y2="295.7" stroke="#d8d8d8" stroke-opacity="0.8" stroke-width="0.9"/>
<rect x="489.59" y="291.3" width="1.9" height="2.2" fill="#9fd09f" fill-opacity="0.9"/>
<line x1="494.6" y1="289.0" x2="494.6" y2="300.2" stroke="#d4d4d4" stroke-width="0.9"/>
<rect x="493.69" y="291.3" width="1.8" height="1.1" fill="#d8d8d8"/>
<line x1="498.6" y1="287.4" x2="498.6" y2="295.7" stroke="#d8d8d8" stroke-opacity="0.8" stroke-width="0.9"/>
<rect x="497.69" y="287.9" width="1.9" height="4.5" fill="#e3a3b3" fill-opacity="0.9"/>
<line x1="502.7" y1="287.9" x2="502.7" y2="295.7" stroke="#d8d8d8" stroke-opacity="0.8" stroke-width="0.9"/>
<rect x="501.74" y="288.5" width="1.9" height="4.4" fill="#e3a3b3" fill-opacity="0.9"/>
<line x1="506.7" y1="285.0" x2="506.7" y2="295.2" stroke="#d4d4d4" stroke-width="0.9"/>
<rect x="505.84" y="290.6" width="1.8" height="1.0" fill="#d8d8d8"/>
<line x1="510.8" y1="291.1" x2="510.8" y2="301.2" stroke="#d8d8d8" stroke-opacity="0.8" stroke-width="0.9"/>
<rect x="509.85" y="293.9" width="1.9" height="7.3" fill="#e3a3b3" fill-opacity="0.9"/>
<line x1="513.2" y1="300.1" x2="516.4" y2="300.1" stroke="#d0d0d0" stroke-width="1"/>
<line x1="518.9" y1="293.4" x2="518.9" y2="301.7" stroke="#d8d8d8" stroke-opacity="0.8" stroke-width="0.9"/>
<rect x="517.95" y="293.9" width="1.9" height="7.8" fill="#e3a3b3" fill-opacity="0.9"/>
<line x1="523.0" y1="286.7" x2="523.0" y2="302.8" stroke="#cfcfcf" stroke-width="0.9"/>
<rect x="521.85" y="287.2" width="2.2" height="15.1" fill="#2e8c47" stroke="#a0e2a0" stroke-width="0.8"/>
<line x1="527.0" y1="284.5" x2="527.0" y2="294.5" stroke="#cfcfcf" stroke-width="0.9"/>
<rect x="525.90" y="289.5" width="2.2" height="4.4" fill="#bf2f58" stroke="#ff94b2" stroke-width="0.8"/>
<line x1="531.1" y1="292.8" x2="531.1" y2="300.1" stroke="#cfcfcf" stroke-width="0.9"/>
<rect x="529.96" y="293.4" width="2.2" height="6.1" fill="#bf2f58" stroke="#ff94b2" stroke-width="0.8"/>
<line x1="535.1" y1="301.2" x2="535.1" y2="309.5" stroke="#cfcfcf" stroke-width="0.9"/>
<rect x="534.01" y="301.7" width="2.2" height="6.2" fill="#bf2f58" stroke="#ff94b2" stroke-width="0.8"/>
<line x1="539.2" y1="309.0" x2="539.2" y2="320.1" stroke="#cfcfcf" stroke-width="0.9"/>
<rect x="538.06" y="309.5" width="2.2" height="10.1" fill="#bf2f58" stroke="#ff94b2" stroke-width="0.8"/>
<line x1="543.2" y1="321.8" x2="543.2" y2="330.2" stroke="#d8d8d8" stroke-opacity="0.8" stroke-width="0.9"/>
<rect x="542.26" y="322.3" width="1.9" height="1.7" fill="#e3a3b3" fill-opacity="0.9"/>
<line x1="547.3" y1="323.5" x2="547.3" y2="330.7" stroke="#cfcfcf" stroke-width="0.9"/>
<rect x="546.16" y="326.3" width="2.2" height="3.9" fill="#bf2f58" stroke="#ff94b2" stroke-width="0.8"/>
<line x1="551.3" y1="326.8" x2="551.3" y2="338.0" stroke="#cfcfcf" stroke-width="0.9"/>
<rect x="550.22" y="327.4" width="2.2" height="10.0" fill="#bf2f58" stroke="#ff94b2" stroke-width="0.8"/>
<line x1="553.8" y1="337.4" x2="557.0" y2="337.4" stroke="#d0d0d0" stroke-width="1"/>
<line x1="559.4" y1="355.6" x2="559.4" y2="380.7" stroke="#cfcfcf" stroke-width="0.9"/>
<rect x="558.32" y="356.2" width="2.2" height="16.7" fill="#bf2f58" stroke="#ff94b2" stroke-width="0.8"/>
<line x1="561.9" y1="372.5" x2="565.1" y2="372.5" stroke="#d0d0d0" stroke-width="1"/>
<line x1="567.5" y1="353.4" x2="567.5" y2="368.5" stroke="#cfcfcf" stroke-width="0.9"/>
<rect x="566.42" y="355.1" width="2.2" height="12.8" fill="#2e8c47" stroke="#a0e2a0" stroke-width="0.8"/>
<line x1="570.0" y1="355.1" x2="573.2" y2="355.1" stroke="#d0d0d0" stroke-width="1"/>
<line x1="575.6" y1="358.4" x2="575.6" y2="380.7" stroke="#d8d8d8" stroke-opacity="0.8" stroke-width="0.9"/>
<rect x="574.68" y="360.7" width="1.9" height="16.1" fill="#e3a3b3" fill-opacity="0.9"/>
<line x1="579.7" y1="377.9" x2="579.7" y2="388.5" stroke="#d4d4d4" stroke-width="0.9"/>
<rect x="578.78" y="379.0" width="1.8" height="1.0" fill="#d8d8d8"/>
<line x1="583.7" y1="381.3" x2="583.7" y2="389.1" stroke="#d4d4d4" stroke-width="0.9"/>
<rect x="582.83" y="382.0" width="1.8" height="1.0" fill="#d8d8d8"/>
<line x1="587.8" y1="375.7" x2="587.8" y2="389.6" stroke="#d8d8d8" stroke-opacity="0.8" stroke-width="0.9"/>
<rect x="586.83" y="379.6" width="1.9" height="10.0" fill="#9fd09f" fill-opacity="0.9"/>
<line x1="591.8" y1="375.7" x2="591.8" y2="386.9" stroke="#d8d8d8" stroke-opacity="0.8" stroke-width="0.9"/>
<rect x="590.89" y="376.3" width="1.9" height="8.9" fill="#e3a3b3" fill-opacity="0.9"/>
<line x1="595.9" y1="384.6" x2="595.9" y2="393.5" stroke="#d4d4d4" stroke-width="0.9"/>
<rect x="594.99" y="386.0" width="1.8" height="1.0" fill="#d8d8d8"/>
<line x1="599.9" y1="385.2" x2="599.9" y2="389.6" stroke="#d4d4d4" stroke-width="0.9"/>
<rect x="599.04" y="386.0" width="1.8" height="1.0" fill="#d8d8d8"/>
<line x1="604.0" y1="377.4" x2="604.0" y2="388.5" stroke="#cfcfcf" stroke-width="0.9"/>
<rect x="602.89" y="379.0" width="2.2" height="5.6" fill="#2e8c47" stroke="#a0e2a0" stroke-width="0.8"/>
<line x1="606.4" y1="379.6" x2="609.6" y2="379.6" stroke="#d0d0d0" stroke-width="1"/>
<line x1="612.1" y1="366.8" x2="612.1" y2="373.5" stroke="#cfcfcf" stroke-width="0.9"/>
<rect x="611.00" y="367.9" width="2.2" height="5.0" fill="#2e8c47" stroke="#a0e2a0" stroke-width="0.8"/>
<line x1="616.1" y1="326.7" x2="616.1" y2="359.5" stroke="#cfcfcf" stroke-width="0.9"/>
<rect x="615.05" y="332.8" width="2.2" height="26.2" fill="#2e8c47" stroke="#a0e2a0" stroke-width="0.8"/>
<line x1="620.2" y1="332.8" x2="620.2" y2="349.5" stroke="#cfcfcf" stroke-width="0.9"/>
<rect x="619.10" y="337.3" width="2.2" height="11.7" fill="#bf2f58" stroke="#ff94b2" stroke-width="0.8"/>
<line x1="624.3" y1="346.7" x2="624.3" y2="354.0" stroke="#d4d4d4" stroke-width="0.9"/>
<rect x="623.35" y="347.8" width="1.8" height="0.7" fill="#d8d8d8"/>
<line x1="628.3" y1="343.4" x2="628.3" y2="356.2" stroke="#cfcfcf" stroke-width="0.9"/>
<rect x="627.20" y="345.1" width="2.2" height="10.0" fill="#bf2f58" stroke="#ff94b2" stroke-width="0.8"/>
<line x1="632.4" y1="350.7" x2="632.4" y2="359.1" stroke="#d4d4d4" stroke-width="0.9"/>
<rect x="631.46" y="353.8" width="1.8" height="0.7" fill="#d8d8d8"/>
<line x1="636.4" y1="334.6" x2="636.4" y2="353.0" stroke="#cfcfcf" stroke-width="0.9"/>
<rect x="635.31" y="335.2" width="2.2" height="17.2" fill="#2e8c47" stroke="#a0e2a0" stroke-width="0.8"/>
<line x1="638.9" y1="336.0" x2="642.1" y2="336.0" stroke="#d0d0d0" stroke-width="1"/>
<line x1="644.5" y1="332.4" x2="644.5" y2="346.9" stroke="#cfcfcf" stroke-width="0.9"/>
<rect x="643.41" y="336.3" width="2.2" height="10.0" fill="#2e8c47" stroke="#a0e2a0" stroke-width="0.8"/>
<line x1="647.0" y1="336.3" x2="650.2" y2="336.3" stroke="#d0d0d0" stroke-width="1"/>
<line x1="652.6" y1="310.1" x2="652.6" y2="321.8" stroke="#d8d8d8" stroke-opacity="0.8" stroke-width="0.9"/>
<rect x="651.67" y="312.9" width="1.9" height="2.2" fill="#e3a3b3" fill-opacity="0.9"/>
<line x1="656.7" y1="306.2" x2="656.7" y2="315.6" stroke="#d4d4d4" stroke-width="0.9"/>
<rect x="655.77" y="314.6" width="1.8" height="1.0" fill="#d8d8d8"/>
<line x1="659.1" y1="315.1" x2="662.3" y2="315.1" stroke="#d0d0d0" stroke-width="1"/>
<line x1="663.2" y1="315.1" x2="666.4" y2="315.1" stroke="#d0d0d0" stroke-width="1"/>
<line x1="667.2" y1="315.2" x2="670.4" y2="315.2" stroke="#d0d0d0" stroke-width="1"/>
<line x1="671.3" y1="315.5" x2="674.5" y2="315.5" stroke="#d0d0d0" stroke-width="1"/>
<line x1="676.9" y1="301.2" x2="676.9" y2="313.4" stroke="#cfcfcf" stroke-width="0.9"/>
<rect x="675.83" y="306.2" width="2.2" height="5.5" fill="#2e8c47" stroke="#a0e2a0" stroke-width="0.8"/>
<line x1="681.0" y1="299.5" x2="681.0" y2="311.2" stroke="#cfcfcf" stroke-width="0.9"/>
<rect x="679.88" y="300.0" width="2.2" height="7.8" fill="#2e8c47" stroke="#a0e2a0" stroke-width="0.8"/>
<line x1="685.0" y1="296.1" x2="685.0" y2="310.1" stroke="#cfcfcf" stroke-width="0.9"/>
<rect x="683.93" y="302.3" width="2.2" height="6.1" fill="#bf2f58" stroke="#ff94b2" stroke-width="0.8"/>
<line x1="689.1" y1="300.6" x2="689.1" y2="311.2" stroke="#cfcfcf" stroke-width="0.9"/>
<rect x="687.98" y="301.2" width="2.2" height="7.2" fill="#2e8c47" stroke="#a0e2a0" stroke-width="0.8"/>
<line x1="693.1" y1="296.7" x2="693.1" y2="307.3" stroke="#cfcfcf" stroke-width="0.9"/>
<rect x="692.04" y="297.3" width="2.2" height="6.1" fill="#2e8c47" stroke="#a0e2a0" stroke-width="0.8"/>
<line x1="697.2" y1="289.5" x2="697.2" y2="298.4" stroke="#d4d4d4" stroke-width="0.9"/>
<rect x="696.29" y="296.4" width="1.8" height="0.7" fill="#d8d8d8"/>
<line x1="701.2" y1="292.2" x2="701.2" y2="317.3" stroke="#cfcfcf" stroke-width="0.9"/>
<rect x="700.14" y="295.6" width="2.2" height="19.5" fill="#bf2f58" stroke="#ff94b2" stroke-width="0.8"/>
<line x1="705.3" y1="301.7" x2="705.3" y2="315.6" stroke="#cfcfcf" stroke-width="0.9"/>
<rect x="704.19" y="302.3" width="2.2" height="12.8" fill="#2e8c47" stroke="#a0e2a0" stroke-width="0.8"/>
<line x1="709.3" y1="291.1" x2="709.3" y2="305.6" stroke="#cfcfcf" stroke-width="0.9"/>
<rect x="708.24" y="292.7" width="2.2" height="11.7" fill="#2e8c47" stroke="#a0e2a0" stroke-width="0.8"/>
<line x1="713.4" y1="286.0" x2="713.4" y2="298.9" stroke="#cfcfcf" stroke-width="0.9"/>
<rect x="712.30" y="286.6" width="2.2" height="9.5" fill="#2e8c47" stroke="#a0e2a0" stroke-width="0.8"/>
<line x1="717.4" y1="276.6" x2="717.4" y2="287.7" stroke="#d4d4d4" stroke-width="0.9"/>
<rect x="716.55" y="286.5" width="1.8" height="1.0" fill="#d8d8d8"/>
<line x1="721.5" y1="272.7" x2="721.5" y2="289.4" stroke="#cfcfcf" stroke-width="0.9"/>
<rect x="720.40" y="273.2" width="2.2" height="13.4" fill="#2e8c47" stroke="#a0e2a0" stroke-width="0.8"/>
<line x1="725.6" y1="260.4" x2="725.6" y2="278.8" stroke="#cfcfcf" stroke-width="0.9"/>
<rect x="724.45" y="263.2" width="2.2" height="12.3" fill="#2e8c47" stroke="#a0e2a0" stroke-width="0.8"/>
<line x1="729.6" y1="258.7" x2="729.6" y2="267.7" stroke="#d8d8d8" stroke-opacity="0.8" stroke-width="0.9"/>
<rect x="728.65" y="259.9" width="1.9" height="4.4" fill="#e3a3b3" fill-opacity="0.9"/>
<line x1="733.7" y1="253.2" x2="733.7" y2="267.1" stroke="#d8d8d8" stroke-opacity="0.8" stroke-width="0.9"/>
<rect x="732.71" y="258.2" width="1.9" height="3.9" fill="#c8d8c8" fill-opacity="0.9"/>
<line x1="737.7" y1="255.4" x2="737.7" y2="267.1" stroke="#d8d8d8" stroke-opacity="0.8" stroke-width="0.9"/>
<rect x="736.76" y="258.2" width="1.9" height="3.3" fill="#e3a3b3" fill-opacity="0.9"/>
<line x1="741.8" y1="257.1" x2="741.8" y2="267.1" stroke="#d8d8d8" stroke-opacity="0.8" stroke-width="0.9"/>
<rect x="740.81" y="263.8" width="1.9" height="2.2" fill="#c8d8c8" fill-opacity="0.9"/>
<line x1="745.8" y1="259.3" x2="745.8" y2="286.6" stroke="#d8d8d8" stroke-opacity="0.8" stroke-width="0.9"/>
<rect x="744.86" y="266.5" width="1.9" height="10.1" fill="#e3a3b3" fill-opacity="0.9"/>
<line x1="749.9" y1="275.5" x2="749.9" y2="284.4" stroke="#d4d4d4" stroke-width="0.9"/>
<rect x="748.96" y="279.0" width="1.8" height="1.0" fill="#d8d8d8"/>
<line x1="753.9" y1="261.0" x2="753.9" y2="278.3" stroke="#cfcfcf" stroke-width="0.9"/>
<rect x="752.82" y="261.5" width="2.2" height="13.4" fill="#2e8c47" stroke="#a0e2a0" stroke-width="0.8"/>
<line x1="758.0" y1="255.4" x2="758.0" y2="266.0" stroke="#cfcfcf" stroke-width="0.9"/>
<rect x="756.87" y="257.1" width="2.2" height="5.0" fill="#2e8c47" stroke="#a0e2a0" stroke-width="0.8"/>
<line x1="762.0" y1="236.2" x2="762.0" y2="256.7" stroke="#cfcfcf" stroke-width="0.9"/>
<rect x="760.92" y="246.0" width="2.2" height="5.8" fill="#2e8c47" stroke="#a0e2a0" stroke-width="0.8"/>
<line x1="766.1" y1="236.2" x2="766.1" y2="254.1" stroke="#cfcfcf" stroke-width="0.9"/>
<rect x="764.97" y="242.5" width="2.2" height="2.2" fill="#2e8c47" stroke="#a0e2a0" stroke-width="0.8"/>
<line x1="770.1" y1="244.3" x2="770.1" y2="257.6" stroke="#cfcfcf" stroke-width="0.9"/>
<rect x="769.02" y="245.2" width="2.2" height="10.6" fill="#bf2f58" stroke="#ff94b2" stroke-width="0.8"/>
<line x1="774.2" y1="252.3" x2="774.2" y2="271.0" stroke="#cfcfcf" stroke-width="0.9"/>
<rect x="773.08" y="253.2" width="2.2" height="17.4" fill="#bf2f58" stroke="#ff94b2" stroke-width="0.8"/>
<line x1="778.2" y1="271.9" x2="778.2" y2="287.9" stroke="#cfcfcf" stroke-width="0.9"/>
<rect x="777.13" y="272.3" width="2.2" height="13.0" fill="#bf2f58" stroke="#ff94b2" stroke-width="0.8"/>
<line x1="782.3" y1="256.7" x2="782.3" y2="282.6" stroke="#cfcfcf" stroke-width="0.9"/>
<rect x="781.18" y="257.2" width="2.2" height="20.0" fill="#2e8c47" stroke="#a0e2a0" stroke-width="0.8"/>
<line x1="786.3" y1="246.5" x2="786.3" y2="265.6" stroke="#cfcfcf" stroke-width="0.9"/>
<rect x="785.23" y="258.1" width="2.2" height="4.4" fill="#bf2f58" stroke="#ff94b2" stroke-width="0.8"/>
<line x1="790.4" y1="251.4" x2="790.4" y2="275.5" stroke="#cfcfcf" stroke-width="0.9"/>
<rect x="789.28" y="259.0" width="2.2" height="4.9" fill="#2e8c47" stroke="#a0e2a0" stroke-width="0.8"/>
<line x1="794.4" y1="262.0" x2="794.4" y2="292.6" stroke="#cfcfcf" stroke-width="0.9"/>
<rect x="793.34" y="262.1" width="2.2" height="30.0" fill="#bf2f58" stroke="#ff94b2" stroke-width="0.8"/>
<line x1="798.5" y1="280.9" x2="798.5" y2="299.3" stroke="#cfcfcf" stroke-width="0.9"/>
<rect x="797.39" y="281.5" width="2.2" height="14.5" fill="#2e8c47" stroke="#a0e2a0" stroke-width="0.8"/>
<line x1="802.5" y1="278.2" x2="802.5" y2="307.1" stroke="#cfcfcf" stroke-width="0.9"/>
<rect x="801.44" y="281.5" width="2.2" height="24.0" fill="#bf2f58" stroke="#ff94b2" stroke-width="0.8"/>
<line x1="806.6" y1="298.3" x2="806.6" y2="308.4" stroke="#d8d8d8" stroke-opacity="0.8" stroke-width="0.9"/>
<rect x="805.64" y="299.5" width="1.9" height="7.2" fill="#9fd09f" fill-opacity="0.9"/>
<line x1="810.6" y1="299.0" x2="810.6" y2="314.0" stroke="#d8d8d8" stroke-opacity="0.8" stroke-width="0.9"/>
<rect x="809.69" y="299.5" width="1.9" height="11.1" fill="#e3a3b3" fill-opacity="0.9"/>
<line x1="814.7" y1="296.7" x2="814.7" y2="320.1" stroke="#d8d8d8" stroke-opacity="0.8" stroke-width="0.9"/>
<rect x="813.75" y="312.8" width="1.9" height="6.7" fill="#e3a3b3" fill-opacity="0.9"/>
<line x1="818.7" y1="327.3" x2="818.7" y2="347.4" stroke="#d8d8d8" stroke-opacity="0.8" stroke-width="0.9"/>
<rect x="817.80" y="330.7" width="1.9" height="4.4" fill="#9fd09f" fill-opacity="0.9"/>
<line x1="822.8" y1="325.1" x2="822.8" y2="341.8" stroke="#d8d8d8" stroke-opacity="0.8" stroke-width="0.9"/>
<rect x="821.85" y="332.9" width="1.9" height="5.6" fill="#e3a3b3" fill-opacity="0.9"/>
<line x1="826.9" y1="322.3" x2="826.9" y2="342.9" stroke="#d8d8d8" stroke-opacity="0.8" stroke-width="0.9"/>
<rect x="825.90" y="326.2" width="1.9" height="15.6" fill="#9fd09f" fill-opacity="0.9"/>
<line x1="830.9" y1="308.4" x2="830.9" y2="330.7" stroke="#cfcfcf" stroke-width="0.9"/>
<rect x="829.80" y="313.4" width="2.2" height="16.1" fill="#2e8c47" stroke="#a0e2a0" stroke-width="0.8"/>
<line x1="835.0" y1="311.2" x2="835.0" y2="328.4" stroke="#cfcfcf" stroke-width="0.9"/>
<rect x="833.86" y="313.9" width="2.2" height="13.4" fill="#bf2f58" stroke="#ff94b2" stroke-width="0.8"/>
<line x1="839.0" y1="323.4" x2="839.0" y2="330.7" stroke="#cfcfcf" stroke-width="0.9"/>
<rect x="837.91" y="326.2" width="2.2" height="3.3" fill="#bf2f58" stroke="#ff94b2" stroke-width="0.8"/>
<line x1="843.1" y1="325.1" x2="843.1" y2="342.4" stroke="#cfcfcf" stroke-width="0.9"/>
<rect x="841.96" y="331.2" width="2.2" height="10.6" fill="#bf2f58" stroke="#ff94b2" stroke-width="0.8"/>
<line x1="847.1" y1="333.4" x2="847.1" y2="345.2" stroke="#d8d8d8" stroke-opacity="0.8" stroke-width="0.9"/>
<rect x="846.16" y="340.1" width="1.9" height="2.8" fill="#9fd09f" fill-opacity="0.9"/>
<line x1="851.2" y1="337.3" x2="851.2" y2="345.7" stroke="#d8d8d8" stroke-opacity="0.8" stroke-width="0.9"/>
<rect x="850.21" y="340.1" width="1.9" height="1.1" fill="#e3a3b3" fill-opacity="0.9"/>
<line x1="855.2" y1="320.6" x2="855.2" y2="343.5" stroke="#cfcfcf" stroke-width="0.9"/>
<rect x="854.12" y="327.3" width="2.2" height="14.5" fill="#2e8c47" stroke="#a0e2a0" stroke-width="0.8"/>
<line x1="859.3" y1="327.3" x2="859.3" y2="349.6" stroke="#cfcfcf" stroke-width="0.9"/>
<rect x="858.17" y="331.2" width="2.2" height="8.4" fill="#bf2f58" stroke="#ff94b2" stroke-width="0.8"/>
<line x1="863.3" y1="346.4" x2="863.3" y2="361.5" stroke="#cfcfcf" stroke-width="0.9"/>
<rect x="862.22" y="354.2" width="2.2" height="6.1" fill="#bf2f58" stroke="#ff94b2" stroke-width="0.8"/>
<line x1="867.4" y1="358.7" x2="867.4" y2="379.4" stroke="#cfcfcf" stroke-width="0.9"/>
<rect x="866.27" y="363.3" width="2.2" height="9.2" fill="#bf2f58" stroke="#ff94b2" stroke-width="0.8"/>
<line x1="871.4" y1="358.2" x2="871.4" y2="375.5" stroke="#cfcfcf" stroke-width="0.9"/>
<rect x="870.32" y="364.9" width="2.2" height="3.9" fill="#2e8c47" stroke="#a0e2a0" stroke-width="0.8"/>
<line x1="875.5" y1="349.3" x2="875.5" y2="365.4" stroke="#cfcfcf" stroke-width="0.9"/>
<rect x="874.38" y="362.1" width="2.2" height="2.8" fill="#2e8c47" stroke="#a0e2a0" stroke-width="0.8"/>
<line x1="879.5" y1="350.9" x2="879.5" y2="364.9" stroke="#cfcfcf" stroke-width="0.9"/>
<rect x="878.43" y="353.7" width="2.2" height="3.9" fill="#2e8c47" stroke="#a0e2a0" stroke-width="0.8"/>
<line x1="883.6" y1="353.7" x2="883.6" y2="365.4" stroke="#d4d4d4" stroke-width="0.9"/>
<rect x="882.68" y="361.5" width="1.8" height="1.1" fill="#d8d8d8"/>
<line x1="887.6" y1="345.9" x2="887.6" y2="361.5" stroke="#d8d8d8" stroke-opacity="0.8" stroke-width="0.9"/>
<rect x="886.68" y="354.3" width="1.9" height="2.2" fill="#c8d8c8" fill-opacity="0.9"/>
<line x1="891.7" y1="358.2" x2="891.7" y2="378.2" stroke="#d8d8d8" stroke-opacity="0.8" stroke-width="0.9"/>
<rect x="890.73" y="367.1" width="1.9" height="2.2" fill="#e3a3b3" fill-opacity="0.9"/>
<line x1="895.7" y1="362.1" x2="895.7" y2="377.1" stroke="#d8d8d8" stroke-opacity="0.8" stroke-width="0.9"/>
<rect x="894.79" y="369.3" width="1.9" height="5.6" fill="#e3a3b3" fill-opacity="0.9"/>
<line x1="899.8" y1="370.4" x2="899.8" y2="378.8" stroke="#d4d4d4" stroke-width="0.9"/>
<rect x="898.89" y="376.0" width="1.8" height="1.0" fill="#d8d8d8"/>
<line x1="903.8" y1="374.3" x2="903.8" y2="384.4" stroke="#d4d4d4" stroke-width="0.9"/>
<rect x="902.94" y="375.0" width="1.8" height="2.0" fill="#d8d8d8"/>
<line x1="907.9" y1="380.5" x2="907.9" y2="389.4" stroke="#cfcfcf" stroke-width="0.9"/>
<rect x="906.79" y="381.0" width="2.2" height="3.4" fill="#bf2f58" stroke="#ff94b2" stroke-width="0.8"/>
<line x1="911.9" y1="374.9" x2="911.9" y2="387.7" stroke="#cfcfcf" stroke-width="0.9"/>
<rect x="910.84" y="382.2" width="2.2" height="4.4" fill="#bf2f58" stroke="#ff94b2" stroke-width="0.8"/>
<line x1="916.0" y1="388.8" x2="916.0" y2="400.0" stroke="#cfcfcf" stroke-width="0.9"/>
<rect x="914.90" y="389.4" width="2.2" height="10.0" fill="#bf2f58" stroke="#ff94b2" stroke-width="0.8"/>
<line x1="920.0" y1="392.7" x2="920.0" y2="405.6" stroke="#cfcfcf" stroke-width="0.9"/>
<rect x="918.95" y="395.0" width="2.2" height="4.4" fill="#bf2f58" stroke="#ff94b2" stroke-width="0.8"/>
<line x1="924.1" y1="374.3" x2="924.1" y2="400.0" stroke="#cfcfcf" stroke-width="0.9"/>
<rect x="923.00" y="382.2" width="2.2" height="17.2" fill="#2e8c47" stroke="#a0e2a0" stroke-width="0.8"/>
<line x1="928.2" y1="380.5" x2="928.2" y2="395.0" stroke="#cfcfcf" stroke-width="0.9"/>
<rect x="927.05" y="381.0" width="2.2" height="13.4" fill="#bf2f58" stroke="#ff94b2" stroke-width="0.8"/>
<line x1="932.2" y1="384.4" x2="932.2" y2="392.7" stroke="#cfcfcf" stroke-width="0.9"/>
<rect x="931.10" y="389.4" width="2.2" height="2.2" fill="#bf2f58" stroke="#ff94b2" stroke-width="0.8"/>
<line x1="936.3" y1="386.6" x2="936.3" y2="396.6" stroke="#cfcfcf" stroke-width="0.9"/>
<rect x="935.16" y="389.3" width="2.2" height="4.2" fill="#bf2f58" stroke="#ff94b2" stroke-width="0.8"/>
<line x1="940.3" y1="372.5" x2="940.3" y2="395.5" stroke="#cfcfcf" stroke-width="0.9"/>
<rect x="939.21" y="379.9" width="2.2" height="15.1" fill="#2e8c47" stroke="#a0e2a0" stroke-width="0.8"/>
<line x1="944.4" y1="380.6" x2="944.4" y2="391.9" stroke="#cfcfcf" stroke-width="0.9"/>
<rect x="943.26" y="385.2" width="2.2" height="3.4" fill="#2e8c47" stroke="#a0e2a0" stroke-width="0.8"/>
<line x1="948.4" y1="383.0" x2="948.4" y2="395.5" stroke="#cfcfcf" stroke-width="0.9"/>
<rect x="947.31" y="387.2" width="2.2" height="7.8" fill="#bf2f58" stroke="#ff94b2" stroke-width="0.8"/>
<line x1="952.5" y1="377.2" x2="952.5" y2="388.6" stroke="#cfcfcf" stroke-width="0.9"/>
<rect x="951.36" y="378.6" width="2.2" height="8.0" fill="#2e8c47" stroke="#a0e2a0" stroke-width="0.8"/>
<line x1="956.5" y1="377.2" x2="956.5" y2="390.6" stroke="#cfcfcf" stroke-width="0.9"/>
<rect x="955.42" y="381.2" width="2.2" height="4.0" fill="#2e8c47" stroke="#a0e2a0" stroke-width="0.8"/>
<line x1="960.6" y1="381.9" x2="960.6" y2="394.6" stroke="#d8d8d8" stroke-opacity="0.8" stroke-width="0.9"/>
<rect x="959.62" y="383.2" width="1.9" height="10.7" fill="#e3a3b3" fill-opacity="0.9"/>
<line x1="964.6" y1="369.2" x2="964.6" y2="387.9" stroke="#d4d4d4" stroke-width="0.9"/>
<rect x="963.72" y="379.5" width="1.8" height="1.0" fill="#d8d8d8"/>
<line x1="968.7" y1="375.2" x2="968.7" y2="389.2" stroke="#d8d8d8" stroke-opacity="0.8" stroke-width="0.9"/>
<rect x="967.72" y="379.9" width="1.9" height="5.3" fill="#9fd09f" fill-opacity="0.9"/>
<line x1="972.7" y1="367.2" x2="972.7" y2="383.2" stroke="#d8d8d8" stroke-opacity="0.8" stroke-width="0.9"/>
<rect x="971.77" y="375.9" width="1.9" height="6.7" fill="#9fd09f" fill-opacity="0.9"/>
<line x1="976.8" y1="374.5" x2="976.8" y2="382.6" stroke="#d8d8d8" stroke-opacity="0.8" stroke-width="0.9"/>
<rect x="975.83" y="375.2" width="1.9" height="6.7" fill="#c8d8c8" fill-opacity="0.9"/>
<line x1="980.8" y1="369.2" x2="980.8" y2="374.5" stroke="#d4d4d4" stroke-width="0.9"/>
<rect x="979.93" y="371.0" width="1.8" height="1.0" fill="#d8d8d8"/>
<line x1="984.9" y1="350.5" x2="984.9" y2="370.5" stroke="#cfcfcf" stroke-width="0.9"/>
<rect x="983.78" y="351.1" width="2.2" height="18.8" fill="#2e8c47" stroke="#a0e2a0" stroke-width="0.8"/>
<line x1="988.9" y1="332.4" x2="988.9" y2="352.5" stroke="#cfcfcf" stroke-width="0.9"/>
<rect x="987.83" y="333.1" width="2.2" height="15.4" fill="#2e8c47" stroke="#a0e2a0" stroke-width="0.8"/>
<line x1="993.0" y1="310.3" x2="993.0" y2="333.1" stroke="#cfcfcf" stroke-width="0.9"/>
<rect x="991.88" y="315.6" width="2.2" height="3.1" fill="#bf2f58" stroke="#ff94b2" stroke-width="0.8"/>
<line x1="997.0" y1="324.4" x2="997.0" y2="333.5" stroke="#cfcfcf" stroke-width="0.9"/>
<rect x="995.94" y="329.1" width="2.2" height="2.4" fill="#bf2f58" stroke="#ff94b2" stroke-width="0.8"/>
<line x1="1001.1" y1="324.4" x2="1001.1" y2="333.8" stroke="#cfcfcf" stroke-width="0.9"/>
<rect x="999.99" y="328.4" width="2.2" height="2.4" fill="#bf2f58" stroke="#ff94b2" stroke-width="0.8"/>
<line x1="1005.1" y1="331.7" x2="1005.1" y2="340.4" stroke="#cfcfcf" stroke-width="0.9"/>
<rect x="1004.04" y="332.4" width="2.2" height="7.2" fill="#bf2f58" stroke="#ff94b2" stroke-width="0.8"/>
<line x1="1009.2" y1="336.4" x2="1009.2" y2="345.1" stroke="#d4d4d4" stroke-width="0.9"/>
<rect x="1008.29" y="338.0" width="1.8" height="1.0" fill="#d8d8d8"/>
<line x1="1013.2" y1="340.0" x2="1013.2" y2="346.5" stroke="#cfcfcf" stroke-width="0.9"/>
<rect x="1012.14" y="341.1" width="2.2" height="2.7" fill="#2e8c47" stroke="#a0e2a0" stroke-width="0.8"/>
<line x1="1017.3" y1="336.0" x2="1017.3" y2="348.0" stroke="#cfcfcf" stroke-width="0.9"/>
<rect x="1016.20" y="338.0" width="2.2" height="3.0" fill="#2e8c47" stroke="#a0e2a0" stroke-width="0.8"/>
<line x1="1021.3" y1="330.0" x2="1021.3" y2="344.0" stroke="#cfcfcf" stroke-width="0.9"/>
<rect x="1020.25" y="338.0" width="2.2" height="4.0" fill="#bf2f58" stroke="#ff94b2" stroke-width="0.8"/>
<line x1="1025.4" y1="338.0" x2="1025.4" y2="352.0" stroke="#cfcfcf" stroke-width="0.9"/>
<rect x="1024.30" y="342.0" width="2.2" height="4.0" fill="#bf2f58" stroke="#ff94b2" stroke-width="0.8"/>
<line x1="1029.5" y1="320.0" x2="1029.5" y2="340.0" stroke="#cfcfcf" stroke-width="0.9"/>
<rect x="1028.35" y="324.0" width="2.2" height="10.5" fill="#2e8c47" stroke="#a0e2a0" stroke-width="0.8"/>
<path fill="none" stroke="#74dcd3" stroke-width="1.3" stroke-opacity="0.9" d="M12.4,212.5 C16.2,211.9 27.5,210.0 35.1,208.9 C42.7,207.8 48.6,206.9 58.2,206.1 C67.8,205.3 83.3,204.7 92.9,204.2 C102.5,203.7 108.3,203.2 116.0,203.3 C123.7,203.4 131.4,203.8 139.1,204.5 C146.8,205.2 155.6,206.5 162.2,207.2 C168.8,207.8 170.7,207.7 178.4,208.4 C186.1,209.1 199.5,210.1 208.4,211.4 C217.3,212.8 223.9,214.9 231.6,216.5 C239.3,218.1 248.0,219.9 254.7,221.1 C261.4,222.3 265.3,222.4 272.0,223.6 C278.7,224.8 287.4,226.6 295.1,228.4 C302.8,230.2 310.5,232.3 318.2,234.2 C325.9,236.1 333.6,238.0 341.3,240.0 C349.0,242.0 356.7,244.3 364.4,246.2 C372.1,248.1 379.9,249.9 387.6,251.5 C395.3,253.1 403.0,254.4 410.7,255.7 C418.4,257.0 426.1,258.1 433.8,259.1 C441.5,260.1 449.2,261.1 456.9,261.9 C464.6,262.7 472.3,263.2 480.0,263.8 C487.7,264.4 496.4,265.0 503.1,265.4 C509.8,265.8 513.3,265.8 520.0,266.3 C526.7,266.8 535.4,267.6 543.1,268.4 C550.8,269.2 558.5,270.2 566.2,271.2 C573.9,272.2 581.6,273.5 589.3,274.6 C597.0,275.8 604.7,276.8 612.4,278.1 C620.1,279.4 627.9,281.1 635.6,282.3 C643.3,283.5 651.0,284.6 658.7,285.5 C666.4,286.4 674.1,287.3 681.8,287.8 C689.5,288.3 697.2,288.5 704.9,288.5 C712.6,288.5 720.3,288.3 728.0,288.0 C735.7,287.7 743.3,287.2 751.1,286.9 C758.9,286.6 767.2,286.2 775.0,286.2 C782.8,286.2 790.4,286.4 798.1,286.7 C805.8,287.0 813.5,287.4 821.2,288.0 C828.9,288.6 836.6,289.3 844.3,290.1 C852.0,290.9 859.7,291.8 867.4,292.7 C875.1,293.6 882.9,294.5 890.6,295.4 C898.3,296.3 906.0,297.3 913.7,298.2 C921.4,299.1 929.1,299.9 936.8,300.8 C944.5,301.7 952.2,302.7 959.9,303.5 C967.6,304.3 975.3,305.1 983.0,305.8 C990.7,306.5 998.4,307.1 1006.1,307.7 C1013.8,308.3 1025.5,309.0 1029.4,309.3"/>
<path fill="none" stroke="#f26d75" stroke-width="1.25" stroke-opacity="0.9" d="M12.0,266.6 C15.8,267.0 27.4,268.0 35.1,268.9 C42.8,269.8 50.5,271.2 58.2,271.9 C65.9,272.5 73.6,272.8 81.3,272.8 C89.0,272.8 96.7,272.0 104.4,271.9 C112.1,271.8 119.9,271.8 127.6,271.9 C135.3,272.0 143.0,272.1 150.7,272.4 C158.4,272.7 166.1,273.1 173.8,273.5 C181.5,273.9 189.2,274.5 196.9,275.1 C204.6,275.7 214.2,276.3 220.0,277.0 C225.8,277.7 227.8,278.9 231.6,279.5 C235.4,280.1 238.4,280.4 243.1,280.5 C247.8,280.6 253.8,280.2 260.0,280.0 C266.1,279.8 270.8,279.5 280.0,279.5 C289.2,279.5 307.3,280.0 315.0,279.8 C322.7,279.6 322.4,278.8 326.1,278.3 C329.8,277.8 333.6,277.3 337.3,277.0 C341.0,276.7 344.7,276.7 348.4,276.4 C352.1,276.1 355.9,275.7 359.6,275.3 C363.3,274.9 367.0,274.7 370.7,274.2 C374.4,273.7 377.8,273.1 381.9,272.5 C385.9,271.9 390.2,271.2 395.0,270.3 C399.8,269.4 406.2,268.0 410.7,267.0 C415.2,266.0 418.3,264.9 422.2,264.2 C426.1,263.5 428.0,262.6 433.8,262.6 C439.6,262.6 449.2,263.6 456.9,264.2 C464.6,264.8 472.3,265.6 480.0,266.5 C487.7,267.4 496.4,268.6 503.1,269.3 C509.8,270.0 513.3,270.0 520.0,270.7 C526.7,271.4 537.3,272.7 543.1,273.5 C548.9,274.3 550.9,274.3 554.7,275.3 C558.6,276.3 562.4,277.9 566.2,279.3 C570.1,280.7 573.9,282.0 577.8,283.9 C581.6,285.8 585.4,288.3 589.3,290.8 C593.1,293.3 597.0,296.4 600.9,298.9 C604.8,301.4 608.5,303.5 612.4,305.8 C616.2,308.1 620.1,310.7 624.0,312.8 C627.9,314.9 631.8,316.9 635.6,318.6 C639.5,320.3 643.2,321.8 647.1,323.2 C651.0,324.6 654.9,326.1 658.7,327.1 C662.6,328.1 666.4,328.7 670.2,329.4 C674.1,330.1 676.0,330.7 681.8,331.3 C687.6,331.9 697.2,332.8 704.9,332.9 C712.6,333.0 722.2,332.2 728.0,331.7 C733.8,331.1 735.8,330.5 739.6,329.6 C743.5,328.7 747.2,327.8 751.1,326.5 C755.0,325.2 758.7,323.4 762.7,321.6 C766.7,319.8 771.0,317.6 775.0,315.5 C779.0,313.4 782.8,311.2 786.6,309.2 C790.5,307.1 794.2,305.0 798.1,303.2 C802.0,301.4 805.9,299.5 809.7,298.2 C813.6,296.9 817.4,296.0 821.2,295.3 C825.1,294.6 828.9,294.1 832.8,293.8 C836.6,293.5 840.4,293.3 844.3,293.4 C848.1,293.5 852.0,293.9 855.9,294.3 C859.8,294.8 863.5,295.2 867.4,296.1 C871.2,297.0 875.1,298.3 879.0,299.4 C882.9,300.4 886.8,301.2 890.6,302.4 C894.5,303.6 898.2,305.2 902.1,306.8 C906.0,308.4 909.9,310.2 913.7,312.2 C917.6,314.2 921.3,316.4 925.2,318.6 C929.1,320.8 932.6,322.8 936.9,325.5 C941.2,328.2 946.4,331.8 951.1,334.8 C955.8,337.8 960.5,340.6 965.3,343.3 C970.0,346.0 975.5,349.1 979.6,351.1 C983.7,353.1 986.5,354.3 990.0,355.5 C993.5,356.7 996.7,357.4 1000.9,358.2 C1005.1,359.0 1010.4,359.9 1015.1,360.4 C1019.9,360.9 1027.0,361.0 1029.4,361.1"/>
<path fill="none" stroke="#f2cf2a" stroke-width="1.35" stroke-opacity="0.88" d="M12.4,278.6 C14.3,277.6 20.2,274.9 24.0,272.8 C27.8,270.7 31.2,268.4 35.0,266.0 C38.8,263.6 42.8,260.8 47.0,258.5 C51.2,256.2 56.3,253.2 60.5,252.2 C64.7,251.2 67.8,252.3 72.1,252.7 C76.3,253.0 82.2,253.5 86.0,254.3 C89.8,255.1 91.7,256.3 95.2,257.3 C98.7,258.3 103.0,258.8 106.8,260.3 C110.6,261.9 114.1,263.8 118.3,266.6 C122.5,269.4 127.6,273.7 132.2,277.0 C136.8,280.3 141.4,283.5 146.0,286.2 C150.6,288.9 155.7,291.5 159.9,293.2 C164.2,294.9 167.7,295.8 171.5,296.6 C175.3,297.4 178.8,297.5 183.0,297.8 C187.2,298.1 192.7,298.6 196.9,298.2 C201.1,297.8 204.6,296.5 208.4,295.5 C212.2,294.5 216.3,293.1 220.0,292.0 C223.7,290.9 227.5,290.4 230.4,289.0 C233.3,287.6 234.4,286.3 237.3,283.9 C240.2,281.5 244.0,277.4 247.7,274.7 C251.4,272.0 255.2,269.7 259.3,267.7 C263.4,265.7 267.9,263.6 272.0,262.5 C276.1,261.4 279.8,261.2 283.6,260.8 C287.5,260.4 290.5,260.5 295.1,260.1 C299.7,259.7 306.1,257.4 311.3,258.3 C316.5,259.2 321.8,263.3 326.1,265.3 C330.4,267.3 333.6,268.5 337.3,270.3 C341.0,272.1 344.7,274.1 348.4,275.9 C352.1,277.7 356.8,279.8 359.6,280.9 C362.4,282.0 363.2,282.2 365.1,282.6 C367.0,283.0 368.6,283.0 370.7,283.1 C372.8,283.2 375.5,283.3 377.4,283.1 C379.3,282.9 380.2,282.6 381.9,282.0 C383.6,281.4 385.2,280.9 387.4,279.8 C389.6,278.7 391.1,277.5 395.0,275.3 C398.9,273.1 404.2,269.8 410.7,266.5 C417.2,263.2 427.2,258.3 433.8,255.7 C440.4,253.1 446.1,251.8 450.0,251.0 C453.9,250.2 454.7,250.7 456.9,250.8 C459.1,250.9 460.7,251.0 463.4,251.5 C466.1,252.0 469.5,252.5 473.0,253.8 C476.5,255.2 481.1,257.3 484.6,259.6 C488.1,261.9 490.8,265.4 493.9,267.7 C497.0,270.0 498.8,271.4 503.1,273.5 C507.5,275.6 515.2,278.7 520.0,280.4 C524.8,282.1 527.8,282.0 531.6,283.9 C535.5,285.8 539.2,289.1 543.1,292.0 C547.0,294.9 550.9,297.9 554.7,301.2 C558.6,304.5 562.4,307.9 566.2,311.6 C570.1,315.3 573.9,319.1 577.8,323.2 C581.6,327.2 585.4,331.5 589.3,335.9 C593.1,340.3 597.0,345.8 600.9,349.8 C604.8,353.9 608.5,357.7 612.4,360.2 C616.2,362.7 620.1,363.8 624.0,364.8 C627.9,365.8 631.8,366.6 635.6,366.4 C639.5,366.2 643.2,365.2 647.1,363.6 C651.0,362.0 654.9,359.4 658.7,356.7 C662.6,354.0 666.4,351.1 670.2,347.4 C674.1,343.7 677.9,338.7 681.8,334.7 C685.6,330.7 689.4,326.2 693.3,323.2 C697.1,320.2 701.0,319.2 704.9,316.9 C708.8,314.6 712.5,311.9 716.4,309.3 C720.2,306.7 724.1,303.9 728.0,301.2 C731.9,298.5 735.8,295.8 739.6,293.1 C743.5,290.4 747.2,287.7 751.1,285.0 C755.0,282.3 759.2,279.2 762.7,277.0 C766.2,274.8 769.0,272.9 771.9,271.5 C774.8,270.1 777.5,269.6 780.0,268.5 C782.5,267.4 784.0,265.4 786.6,264.7 C789.2,264.0 792.7,263.6 795.8,264.2 C798.9,264.8 801.5,266.5 805.0,268.4 C808.5,270.3 812.7,273.3 816.6,275.8 C820.5,278.3 824.7,280.9 828.2,283.2 C831.7,285.5 834.7,287.5 837.4,289.7 C840.1,291.9 841.6,293.7 844.3,296.6 C847.0,299.5 850.5,303.9 853.6,307.0 C856.7,310.1 859.7,311.4 862.8,315.1 C865.9,318.8 869.0,325.1 872.1,329.0 C875.2,332.9 878.2,335.7 881.3,338.2 C884.4,340.7 887.1,342.1 890.6,344.0 C894.1,345.9 898.2,347.7 902.1,349.8 C906.0,351.9 909.9,354.4 913.7,356.7 C917.6,359.0 921.4,360.9 925.2,363.6 C929.1,366.3 932.9,370.5 936.8,372.9 C940.6,375.3 944.4,376.6 948.3,378.0 C952.1,379.4 956.0,380.4 959.9,381.5 C963.8,382.6 967.6,384.1 971.5,384.5 C975.4,384.9 979.2,385.2 983.0,384.0 C986.8,382.8 990.6,379.9 994.5,377.5 C998.4,375.1 1002.2,372.2 1006.1,369.4 C1010.0,366.6 1013.8,363.6 1017.7,360.8 C1021.6,358.0 1027.5,354.0 1029.4,352.6"/>
<line x1="12.5" y1="199.9" x2="1054.3" y2="199.9" stroke="#2ecc71" stroke-opacity="0.7" stroke-width="2.08" stroke-dasharray="7.71 3.33" stroke-dashoffset="0"/>
<line x1="12.5" y1="405" x2="1054.3" y2="405" stroke="#e74c3c" stroke-opacity="0.7" stroke-width="2.08" stroke-dasharray="7.71 3.33" stroke-dashoffset="0"/>
</g>
<g font-weight="bold" font-size="12.5px">
<line x1="456.7" y1="194.3" x2="422" y2="198.6" stroke="#2ecc71" stroke-width="1.8"/>
<polygon points="417.3,199.2 423.4,195.2 424.2,202.0" fill="#2ecc71"/>
<rect x="458.8" y="179.0" width="89.6" height="18.0" rx="3" ry="3" fill="#000" fill-opacity="0.8" stroke="#2ecc71" stroke-width="1.6"/>
<text x="503.6" y="192.5" text-anchor="middle" fill="#2ecc71">$29.89 52W</text>
<line x1="876.5" y1="411.3" x2="909" y2="406.5" stroke="#e74c3c" stroke-width="1.8"/>
<polygon points="916.2,405.3 907.4,402.8 909.2,410.2" fill="#e74c3c"/>
<rect x="784.4" y="408.0" width="90.4" height="18.4" rx="3" ry="3" fill="#000" fill-opacity="0.8" stroke="#e74c3c" stroke-width="1.6"/>
<text x="829.6" y="422.0" text-anchor="middle" fill="#e74c3c">$14.80 52W</text>
</g>
<g font-weight="bold" font-size="12.5px">
<rect x="914.9" y="50.2" width="10" height="10" fill="#ffd700"/>
<text x="930.5" y="58.2" fill="#ffd700" font-size="12.3px">SMA 20</text>
<rect x="914.9" y="65.8" width="10" height="10" fill="#ff6b6b"/>
<text x="930.5" y="73.8" fill="#ff6b6b" font-size="12.3px">SMA 50</text>
<rect x="914.9" y="82.9" width="10" height="10" fill="#4ecdc4"/>
<text x="930.5" y="90.9" fill="#4ecdc4" font-size="12.3px">SMA 200</text>
</g>
<rect x="12.5" y="428.2" width="1041.8" height="166.3" fill="#585858"/>
<g clip-path="url(#cv)">
<text x="483" y="481.4" text-anchor="middle" font-size="60px" font-weight="bold" fill="#000" fill-opacity="0.065">DHER.DE</text>
<g stroke="#ffffff" stroke-opacity="0.17" stroke-width="1" fill="none">
<line x1="93.5" y1="428.2" x2="93.5" y2="594.5"/>
<line x1="178.5" y1="428.2" x2="178.5" y2="594.5"/>
<line x1="271.5" y1="428.2" x2="271.5" y2="594.5"/>
<line x1="356.5" y1="428.2" x2="356.5" y2="594.5"/>
<line x1="446.5" y1="428.2" x2="446.5" y2="594.5"/>
<line x1="539.5" y1="428.2" x2="539.5" y2="594.5"/>
<line x1="620.5" y1="428.2" x2="620.5" y2="594.5"/>
<line x1="697.5" y1="428.2" x2="697.5" y2="594.5"/>
<line x1="782.5" y1="428.2" x2="782.5" y2="594.5"/>
<line x1="863.5" y1="428.2" x2="863.5" y2="594.5"/>
<line x1="952.5" y1="428.2" x2="952.5" y2="594.5"/>
<line x1="12.5" y1="594.5" x2="1054.3" y2="594.5"/>
<line x1="12.5" y1="554.5" x2="1054.3" y2="554.5"/>
<line x1="12.5" y1="514.5" x2="1054.3" y2="514.5"/>
<line x1="12.5" y1="475.5" x2="1054.3" y2="475.5"/>
<line x1="12.5" y1="435.5" x2="1054.3" y2="435.5"/>
</g>
<rect x="10.38" y="584.3" width="4.50" height="10.2" fill="#1f931f"/>
<rect x="14.43" y="565.6" width="4.50" height="28.9" fill="#ff0000"/>
<rect x="18.48" y="551.9" width="4.50" height="42.6" fill="#ff0000"/>
<rect x="22.53" y="569.9" width="4.50" height="24.6" fill="#1f931f"/>
<rect x="26.58" y="569.9" width="4.50" height="24.6" fill="#1f931f"/>
<rect x="30.63" y="551.9" width="4.50" height="42.6" fill="#1f931f"/>
<rect x="34.69" y="572.8" width="4.05" height="21.7" fill="#ff0000"/>
<rect x="42.79" y="574.9" width="4.05" height="19.6" fill="#1f931f"/>
<rect x="50.89" y="574.2" width="4.05" height="20.3" fill="#1f931f"/>
<rect x="59.00" y="578.5" width="4.50" height="16.0" fill="#ff0000"/>
<rect x="63.05" y="568.4" width="4.50" height="26.1" fill="#ff0000"/>
<rect x="67.10" y="577.1" width="4.50" height="17.4" fill="#ff0000"/>
<rect x="71.15" y="582.9" width="4.50" height="11.6" fill="#ff0000"/>
<rect x="75.21" y="576.4" width="4.50" height="18.1" fill="#1f931f"/>
<rect x="79.26" y="580.0" width="4.50" height="14.5" fill="#1f931f"/>
<rect x="83.31" y="565.6" width="4.50" height="28.9" fill="#ff0000"/>
<rect x="87.36" y="556.9" width="4.50" height="37.6" fill="#ff0000"/>
<rect x="91.41" y="564.8" width="4.50" height="29.7" fill="#1f931f"/>
<rect x="95.47" y="541.8" width="4.50" height="52.7" fill="#ff0000"/>
<rect x="99.52" y="566.3" width="4.05" height="28.2" fill="#1f931f"/>
<rect x="115.73" y="547.6" width="4.50" height="46.9" fill="#ff0000"/>
<rect x="119.78" y="574.2" width="4.50" height="20.3" fill="#ff0000"/>
<rect x="123.83" y="564.8" width="4.50" height="29.7" fill="#1f931f"/>
<rect x="127.88" y="566.3" width="4.50" height="28.2" fill="#1f931f"/>
<rect x="131.93" y="556.9" width="4.50" height="37.6" fill="#1f931f"/>
<rect x="135.99" y="577.6" width="4.50" height="16.9" fill="#ff0000"/>
<rect x="140.04" y="551.1" width="4.50" height="43.4" fill="#1f931f"/>
<rect x="144.09" y="568.5" width="4.50" height="26.0" fill="#ff0000"/>
<rect x="148.14" y="516.1" width="4.50" height="78.4" fill="#1f931f"/>
<rect x="152.19" y="566.0" width="4.50" height="28.5" fill="#1f931f"/>
<rect x="156.25" y="558.3" width="4.50" height="36.2" fill="#1f931f"/>
<rect x="160.30" y="573.9" width="4.50" height="20.6" fill="#1f931f"/>
<rect x="164.35" y="576.9" width="4.50" height="17.6" fill="#ff0000"/>
<rect x="168.40" y="573.4" width="4.50" height="21.1" fill="#1f931f"/>
<rect x="172.45" y="565.2" width="4.50" height="29.3" fill="#1f931f"/>
<rect x="176.51" y="559.0" width="4.50" height="35.5" fill="#1f931f"/>
<rect x="180.56" y="571.9" width="4.50" height="22.6" fill="#ff0000"/>
<rect x="184.61" y="581.4" width="4.50" height="13.1" fill="#ff0000"/>
<rect x="188.66" y="570.2" width="4.50" height="24.3" fill="#ff0000"/>
<rect x="192.71" y="577.6" width="4.50" height="16.9" fill="#1f931f"/>
<rect x="196.77" y="562.8" width="4.50" height="31.7" fill="#1f931f"/>
<rect x="200.82" y="544.6" width="4.50" height="49.9" fill="#1f931f"/>
<rect x="204.87" y="524.3" width="4.50" height="70.2" fill="#1f931f"/>
<rect x="208.92" y="558.3" width="4.50" height="36.2" fill="#ff0000"/>
<rect x="212.97" y="559.5" width="4.50" height="35.0" fill="#ff0000"/>
<rect x="217.03" y="570.2" width="4.05" height="24.3" fill="#ff0000"/>
<rect x="225.13" y="555.3" width="4.50" height="39.2" fill="#ff0000"/>
<rect x="229.18" y="443.6" width="4.50" height="150.9" fill="#1f931f"/>
<rect x="233.23" y="470.9" width="4.50" height="123.6" fill="#1f931f"/>
<rect x="237.29" y="564.0" width="4.05" height="30.5" fill="#1f931f"/>
<rect x="245.39" y="549.7" width="4.50" height="44.8" fill="#1f931f"/>
<rect x="249.44" y="567.0" width="4.05" height="27.5" fill="#1f931f"/>
<rect x="257.55" y="579.0" width="4.50" height="15.5" fill="#1f931f"/>
<rect x="261.60" y="580.0" width="4.50" height="14.5" fill="#ff0000"/>
<rect x="265.65" y="576.4" width="4.50" height="18.1" fill="#ff0000"/>
<rect x="269.70" y="579.0" width="4.50" height="15.5" fill="#ff0000"/>
<rect x="273.75" y="583.6" width="4.50" height="10.9" fill="#1f931f"/>
<rect x="277.81" y="587.2" width="4.50" height="7.3" fill="#ff0000"/>
<rect x="281.86" y="582.1" width="4.50" height="12.4" fill="#ff0000"/>
<rect x="285.91" y="575.6" width="4.50" height="18.9" fill="#ff0000"/>
<rect x="289.96" y="576.4" width="4.50" height="18.1" fill="#1f931f"/>
<rect x="294.01" y="565.6" width="4.05" height="28.9" fill="#ff0000"/>
<rect x="302.12" y="566.3" width="4.50" height="28.2" fill="#ff0000"/>
<rect x="306.17" y="574.9" width="4.50" height="19.6" fill="#ff0000"/>
<rect x="310.22" y="577.8" width="4.50" height="16.7" fill="#ff0000"/>
<rect x="314.27" y="571.8" width="4.50" height="22.7" fill="#ff0000"/>
<rect x="318.33" y="569.9" width="4.50" height="24.6" fill="#1f931f"/>
<rect x="322.38" y="572.8" width="4.50" height="21.7" fill="#1f931f"/>
<rect x="326.43" y="577.1" width="4.50" height="17.4" fill="#1f931f"/>
<rect x="330.48" y="577.8" width="4.50" height="16.7" fill="#1f931f"/>
<rect x="334.53" y="567.7" width="4.50" height="26.8" fill="#1f931f"/>
<rect x="338.59" y="564.1" width="4.50" height="30.4" fill="#ff0000"/>
<rect x="342.64" y="556.2" width="4.50" height="38.3" fill="#ff0000"/>
<rect x="346.69" y="536.7" width="4.05" height="57.8" fill="#ff0000"/>
<rect x="354.79" y="565.6" width="4.50" height="28.9" fill="#1f931f"/>
<rect x="358.85" y="562.7" width="4.50" height="31.8" fill="#ff0000"/>
<rect x="362.90" y="557.6" width="4.50" height="36.9" fill="#1f931f"/>
<rect x="366.95" y="571.3" width="4.50" height="23.2" fill="#1f931f"/>
<rect x="371.00" y="554.0" width="4.05" height="40.5" fill="#1f931f"/>
<rect x="379.11" y="567.7" width="4.05" height="26.8" fill="#ff0000"/>
<rect x="387.21" y="575.6" width="4.50" height="18.9" fill="#1f931f"/>
<rect x="391.26" y="577.1" width="4.50" height="17.4" fill="#1f931f"/>
<rect x="395.31" y="579.3" width="4.50" height="15.2" fill="#1f931f"/>
<rect x="399.37" y="559.1" width="4.50" height="35.4" fill="#1f931f"/>
<rect x="403.42" y="557.6" width="4.50" height="36.9" fill="#1f931f"/>
<rect x="407.47" y="543.9" width="4.50" height="50.6" fill="#1f931f"/>
<rect x="411.52" y="543.9" width="4.05" height="50.6" fill="#ff0000"/>
<rect x="419.63" y="570.6" width="4.50" height="23.9" fill="#ff0000"/>
<rect x="423.68" y="577.1" width="4.50" height="17.4" fill="#ff0000"/>
<rect x="427.73" y="572.0" width="4.50" height="22.5" fill="#ff0000"/>
<rect x="431.78" y="569.9" width="4.50" height="24.6" fill="#ff0000"/>
<rect x="435.83" y="567.0" width="4.05" height="27.5" fill="#ff0000"/>
<rect x="443.94" y="566.3" width="4.50" height="28.2" fill="#1f931f"/>
<rect x="447.99" y="572.0" width="4.50" height="22.5" fill="#1f931f"/>
<rect x="452.04" y="575.6" width="4.05" height="18.9" fill="#ff0000"/>
<rect x="460.15" y="578.5" width="4.05" height="16.0" fill="#1f931f"/>
<rect x="472.30" y="577.1" width="4.50" height="17.4" fill="#ff0000"/>
<rect x="476.35" y="567.0" width="4.50" height="27.5" fill="#ff0000"/>
<rect x="480.41" y="573.5" width="4.50" height="21.0" fill="#ff0000"/>
<rect x="484.46" y="547.6" width="4.50" height="46.9" fill="#ff0000"/>
<rect x="488.51" y="572.8" width="4.50" height="21.7" fill="#1f931f"/>
<rect x="492.56" y="568.4" width="4.50" height="26.1" fill="#1f931f"/>
<rect x="496.61" y="576.0" width="4.50" height="18.5" fill="#ff0000"/>
<rect x="500.67" y="569.9" width="4.50" height="24.6" fill="#ff0000"/>
<rect x="504.72" y="572.9" width="4.50" height="21.6" fill="#1f931f"/>
<rect x="508.77" y="560.3" width="4.05" height="34.2" fill="#ff0000"/>
<rect x="516.88" y="561.7" width="4.50" height="32.8" fill="#ff0000"/>
<rect x="520.93" y="562.7" width="4.50" height="31.8" fill="#1f931f"/>
<rect x="524.98" y="570.9" width="4.50" height="23.6" fill="#ff0000"/>
<rect x="529.03" y="573.5" width="4.50" height="21.0" fill="#ff0000"/>
<rect x="533.08" y="559.7" width="4.50" height="34.8" fill="#ff0000"/>
<rect x="537.13" y="555.6" width="4.50" height="38.9" fill="#ff0000"/>
<rect x="541.19" y="548.5" width="4.50" height="46.0" fill="#ff0000"/>
<rect x="545.24" y="563.8" width="4.50" height="30.7" fill="#ff0000"/>
<rect x="549.29" y="558.1" width="4.05" height="36.4" fill="#ff0000"/>
<rect x="557.39" y="522.1" width="4.05" height="72.4" fill="#ff0000"/>
<rect x="565.50" y="535.7" width="4.05" height="58.8" fill="#1f931f"/>
<rect x="573.60" y="484.0" width="4.50" height="110.5" fill="#ff0000"/>
<rect x="577.65" y="537.9" width="4.50" height="56.6" fill="#ff0000"/>
<rect x="581.71" y="536.3" width="4.50" height="58.2" fill="#ff0000"/>
<rect x="585.76" y="535.7" width="4.50" height="58.8" fill="#1f931f"/>
<rect x="589.81" y="553.6" width="4.50" height="40.9" fill="#ff0000"/>
<rect x="593.86" y="550.5" width="4.50" height="44.0" fill="#ff0000"/>
<rect x="597.91" y="478.7" width="4.50" height="115.8" fill="#1f931f"/>
<rect x="601.97" y="563.8" width="4.05" height="30.7" fill="#1f931f"/>
<rect x="610.07" y="565.8" width="4.50" height="28.7" fill="#1f931f"/>
<rect x="614.12" y="474.6" width="4.50" height="119.9" fill="#1f931f"/>
<rect x="618.17" y="549.5" width="4.50" height="45.0" fill="#ff0000"/>
<rect x="622.23" y="552.0" width="4.50" height="42.5" fill="#1f931f"/>
<rect x="626.28" y="563.8" width="4.50" height="30.7" fill="#ff0000"/>
<rect x="630.33" y="566.8" width="4.50" height="27.7" fill="#1f931f"/>
<rect x="634.38" y="537.9" width="4.05" height="56.6" fill="#1f931f"/>
<rect x="642.49" y="568.8" width="4.05" height="25.7" fill="#1f931f"/>
<rect x="650.59" y="543.4" width="4.50" height="51.1" fill="#ff0000"/>
<rect x="654.64" y="562.7" width="4.05" height="31.8" fill="#ff0000"/>
<rect x="674.90" y="526.7" width="4.50" height="67.8" fill="#1f931f"/>
<rect x="678.95" y="567.8" width="4.50" height="26.7" fill="#1f931f"/>
<rect x="683.01" y="573.9" width="4.50" height="20.6" fill="#ff0000"/>
<rect x="687.06" y="575.0" width="4.50" height="19.5" fill="#1f931f"/>
<rect x="691.11" y="580.0" width="4.50" height="14.5" fill="#1f931f"/>
<rect x="695.16" y="560.1" width="4.50" height="34.4" fill="#1f931f"/>
<rect x="699.21" y="563.8" width="4.50" height="30.7" fill="#ff0000"/>
<rect x="703.27" y="567.8" width="4.50" height="26.7" fill="#1f931f"/>
<rect x="707.32" y="554.0" width="4.50" height="40.5" fill="#1f931f"/>
<rect x="711.37" y="559.1" width="4.50" height="35.4" fill="#1f931f"/>
<rect x="715.42" y="560.7" width="4.50" height="33.8" fill="#ff0000"/>
<rect x="719.47" y="570.9" width="4.50" height="23.6" fill="#1f931f"/>
<rect x="723.53" y="560.7" width="4.50" height="33.8" fill="#1f931f"/>
<rect x="727.58" y="546.5" width="4.50" height="48.0" fill="#1f931f"/>
<rect x="731.63" y="545.9" width="4.50" height="48.6" fill="#1f931f"/>
<rect x="735.68" y="565.8" width="4.50" height="28.7" fill="#ff0000"/>
<rect x="739.73" y="573.9" width="4.50" height="20.6" fill="#1f931f"/>
<rect x="743.79" y="552.0" width="4.50" height="42.5" fill="#ff0000"/>
<rect x="747.84" y="577.8" width="4.50" height="16.7" fill="#1f931f"/>
<rect x="751.89" y="566.9" width="4.50" height="27.6" fill="#1f931f"/>
<rect x="755.94" y="563.6" width="4.50" height="30.9" fill="#1f931f"/>
<rect x="759.99" y="546.1" width="4.50" height="48.4" fill="#1f931f"/>
<rect x="764.05" y="553.3" width="4.50" height="41.2" fill="#1f931f"/>
<rect x="768.10" y="544.6" width="4.50" height="49.9" fill="#ff0000"/>
<rect x="772.15" y="557.1" width="4.50" height="37.4" fill="#ff0000"/>
<rect x="776.20" y="556.0" width="4.50" height="38.5" fill="#ff0000"/>
<rect x="780.25" y="553.8" width="4.50" height="40.7" fill="#1f931f"/>
<rect x="784.31" y="548.3" width="4.50" height="46.2" fill="#ff0000"/>
<rect x="788.36" y="565.4" width="4.50" height="29.1" fill="#1f931f"/>
<rect x="792.41" y="534.1" width="4.50" height="60.4" fill="#ff0000"/>
<rect x="796.46" y="557.5" width="4.50" height="37.0" fill="#1f931f"/>
<rect x="800.51" y="537.0" width="4.50" height="57.5" fill="#ff0000"/>
<rect x="804.57" y="566.9" width="4.50" height="27.6" fill="#1f931f"/>
<rect x="808.62" y="563.2" width="4.50" height="31.3" fill="#ff0000"/>
<rect x="812.67" y="556.0" width="4.50" height="38.5" fill="#ff0000"/>
<rect x="816.72" y="522.1" width="4.50" height="72.4" fill="#1f931f"/>
<rect x="820.77" y="559.7" width="4.50" height="34.8" fill="#ff0000"/>
<rect x="824.83" y="557.1" width="4.50" height="37.4" fill="#1f931f"/>
<rect x="828.88" y="568.0" width="4.50" height="26.5" fill="#1f931f"/>
<rect x="832.93" y="559.9" width="4.50" height="34.6" fill="#ff0000"/>
<rect x="836.98" y="571.3" width="4.50" height="23.2" fill="#ff0000"/>
<rect x="841.03" y="558.1" width="4.50" height="36.4" fill="#ff0000"/>
<rect x="845.09" y="569.7" width="4.50" height="24.8" fill="#1f931f"/>
<rect x="849.14" y="568.0" width="4.50" height="26.5" fill="#ff0000"/>
<rect x="853.19" y="550.1" width="4.50" height="44.4" fill="#1f931f"/>
<rect x="857.24" y="474.7" width="4.50" height="119.8" fill="#ff0000"/>
<rect x="861.29" y="502.7" width="4.50" height="91.8" fill="#ff0000"/>
<rect x="865.35" y="527.9" width="4.50" height="66.6" fill="#ff0000"/>
<rect x="869.40" y="553.9" width="4.50" height="40.6" fill="#1f931f"/>
<rect x="873.45" y="518.2" width="4.50" height="76.3" fill="#1f931f"/>
<rect x="877.50" y="536.1" width="4.50" height="58.4" fill="#1f931f"/>
<rect x="881.55" y="556.7" width="4.50" height="37.8" fill="#1f931f"/>
<rect x="885.61" y="543.2" width="4.50" height="51.3" fill="#ff0000"/>
<rect x="889.66" y="458.2" width="4.50" height="136.3" fill="#ff0000"/>
<rect x="893.71" y="539.9" width="4.50" height="54.6" fill="#ff0000"/>
<rect x="897.76" y="555.5" width="4.50" height="39.0" fill="#1f931f"/>
<rect x="901.81" y="552.0" width="4.50" height="42.5" fill="#ff0000"/>
<rect x="905.87" y="533.8" width="4.50" height="60.7" fill="#ff0000"/>
<rect x="909.92" y="549.2" width="4.50" height="45.3" fill="#ff0000"/>
<rect x="913.97" y="533.8" width="4.50" height="60.7" fill="#ff0000"/>
<rect x="918.02" y="522.8" width="4.50" height="71.7" fill="#ff0000"/>
<rect x="922.07" y="513.5" width="4.50" height="81.0" fill="#1f931f"/>
<rect x="926.13" y="526.8" width="4.50" height="67.7" fill="#ff0000"/>
<rect x="930.18" y="527.5" width="4.50" height="67.0" fill="#ff0000"/>
<rect x="934.23" y="494.8" width="4.50" height="99.7" fill="#ff0000"/>
<rect x="938.28" y="456.8" width="4.50" height="137.7" fill="#1f931f"/>
<rect x="942.33" y="514.2" width="4.50" height="80.3" fill="#1f931f"/>
<rect x="946.39" y="522.8" width="4.50" height="71.7" fill="#ff0000"/>
<rect x="950.44" y="510.0" width="4.50" height="84.5" fill="#1f931f"/>
<rect x="954.49" y="545.0" width="4.50" height="49.5" fill="#1f931f"/>
<rect x="958.54" y="532.2" width="4.50" height="62.3" fill="#ff0000"/>
<rect x="962.59" y="514.7" width="4.50" height="79.8" fill="#1f931f"/>
<rect x="966.65" y="539.2" width="4.50" height="55.3" fill="#1f931f"/>
<rect x="970.70" y="553.2" width="4.50" height="41.3" fill="#1f931f"/>
<rect x="974.75" y="562.5" width="4.50" height="32.0" fill="#1f931f"/>
<rect x="978.80" y="563.6" width="4.50" height="30.9" fill="#1f931f"/>
<rect x="982.85" y="541.6" width="4.50" height="52.9" fill="#1f931f"/>
<rect x="986.91" y="509.8" width="4.50" height="84.7" fill="#1f931f"/>
<rect x="990.96" y="488.5" width="4.50" height="106.0" fill="#ff0000"/>
<rect x="995.01" y="554.1" width="4.50" height="40.4" fill="#ff0000"/>
<rect x="999.06" y="561.6" width="4.50" height="32.9" fill="#ff0000"/>
<rect x="1003.11" y="542.7" width="4.50" height="51.8" fill="#ff0000"/>
<rect x="1007.17" y="560.7" width="4.50" height="33.8" fill="#ff0000"/>
<rect x="1011.22" y="564.1" width="4.50" height="30.4" fill="#1f931f"/>
<rect x="1015.27" y="564.1" width="4.50" height="30.4" fill="#1f931f"/>
<rect x="1019.32" y="565.4" width="4.50" height="29.1" fill="#ff0000"/>
<rect x="1023.37" y="562.6" width="4.50" height="31.9" fill="#ff0000"/>
<rect x="1027.43" y="567.8" width="4.05" height="26.7" fill="#1f931f"/>
</g>
<path d="M12.5,594.5 V12.5 H1054.5 V594.5 Z" fill="none" stroke="#8c8c8c" stroke-width="1"/>
<line x1="12.5" y1="428.2" x2="1054.5" y2="428.2" stroke="#7a7a7a" stroke-width="1.1"/>
<g stroke="#f0f0f0" stroke-width="1.1">
<line x1="1054.3" y1="62.5" x2="1059.2" y2="62.5"/>
<line x1="1054.3" y1="130.5" x2="1059.2" y2="130.5"/>
<line x1="1054.3" y1="198.5" x2="1059.2" y2="198.5"/>
<line x1="1054.3" y1="266.5" x2="1059.2" y2="266.5"/>
<line x1="1054.3" y1="334.5" x2="1059.2" y2="334.5"/>
<line x1="1054.3" y1="402.5" x2="1059.2" y2="402.5"/>
<line x1="1054.3" y1="594.5" x2="1059.2" y2="594.5"/>
<line x1="1054.3" y1="554.5" x2="1059.2" y2="554.5"/>
<line x1="1054.3" y1="514.5" x2="1059.2" y2="514.5"/>
<line x1="1054.3" y1="475.5" x2="1059.2" y2="475.5"/>
<line x1="1054.3" y1="435.5" x2="1059.2" y2="435.5"/>
<line x1="93.5" y1="594.5" x2="93.5" y2="599.4"/>
<line x1="178.5" y1="594.5" x2="178.5" y2="599.4"/>
<line x1="271.5" y1="594.5" x2="271.5" y2="599.4"/>
<line x1="356.5" y1="594.5" x2="356.5" y2="599.4"/>
<line x1="446.5" y1="594.5" x2="446.5" y2="599.4"/>
<line x1="539.5" y1="594.5" x2="539.5" y2="599.4"/>
<line x1="620.5" y1="594.5" x2="620.5" y2="599.4"/>
<line x1="697.5" y1="594.5" x2="697.5" y2="599.4"/>
<line x1="782.5" y1="594.5" x2="782.5" y2="599.4"/>
<line x1="863.5" y1="594.5" x2="863.5" y2="599.4"/>
<line x1="952.5" y1="594.5" x2="952.5" y2="599.4"/>
</g>
<g fill="#f0f0f0" font-size="13.9px">
<text x="1063.6" y="67.6">40.0</text>
<text x="1063.6" y="135.6">35.0</text>
<text x="1063.6" y="203.6">30.0</text>
<text x="1063.6" y="271.6">25.0</text>
<text x="1063.6" y="339.6">20.0</text>
<text x="1063.6" y="407.6">15.0</text>
<text x="1063.6" y="599.6">0</text>
<text x="1063.6" y="559.6">1</text>
<text x="1063.6" y="519.6">2</text>
<text x="1063.6" y="480.6">3</text>
<text x="1063.6" y="440.6">4</text>
<text x="0" y="0" text-anchor="middle" transform="translate(95.1,635) rotate(-45)">Jun 2025</text>
<text x="0" y="0" text-anchor="middle" transform="translate(273.1,635) rotate(-45)">Aug 2025</text>
<text x="0" y="0" text-anchor="middle" transform="translate(448.1,635) rotate(-45)">Oct 2025</text>
<text x="0" y="0" text-anchor="middle" transform="translate(622.1,635) rotate(-45)">Dec 2025</text>
<text x="0" y="0" text-anchor="middle" transform="translate(784.1,635) rotate(-45)">Feb 2026</text>
<text x="0" y="0" text-anchor="middle" transform="translate(954.1,635) rotate(-45)">Apr 2026</text>
<text x="0" y="0" text-anchor="middle" transform="translate(1111.2,222.4) rotate(-90)">Preis</text>
<text x="0" y="0" text-anchor="middle" transform="translate(1089.0,513.4) rotate(-90)">Volumen</text>
<text x="0" y="0" text-anchor="middle" font-size="13.9px" transform="translate(1108.2,507.6) rotate(-90)">10<tspan font-size="11px" dy="-5">6</tspan></text>
</g>
</svg>
</body></html>
